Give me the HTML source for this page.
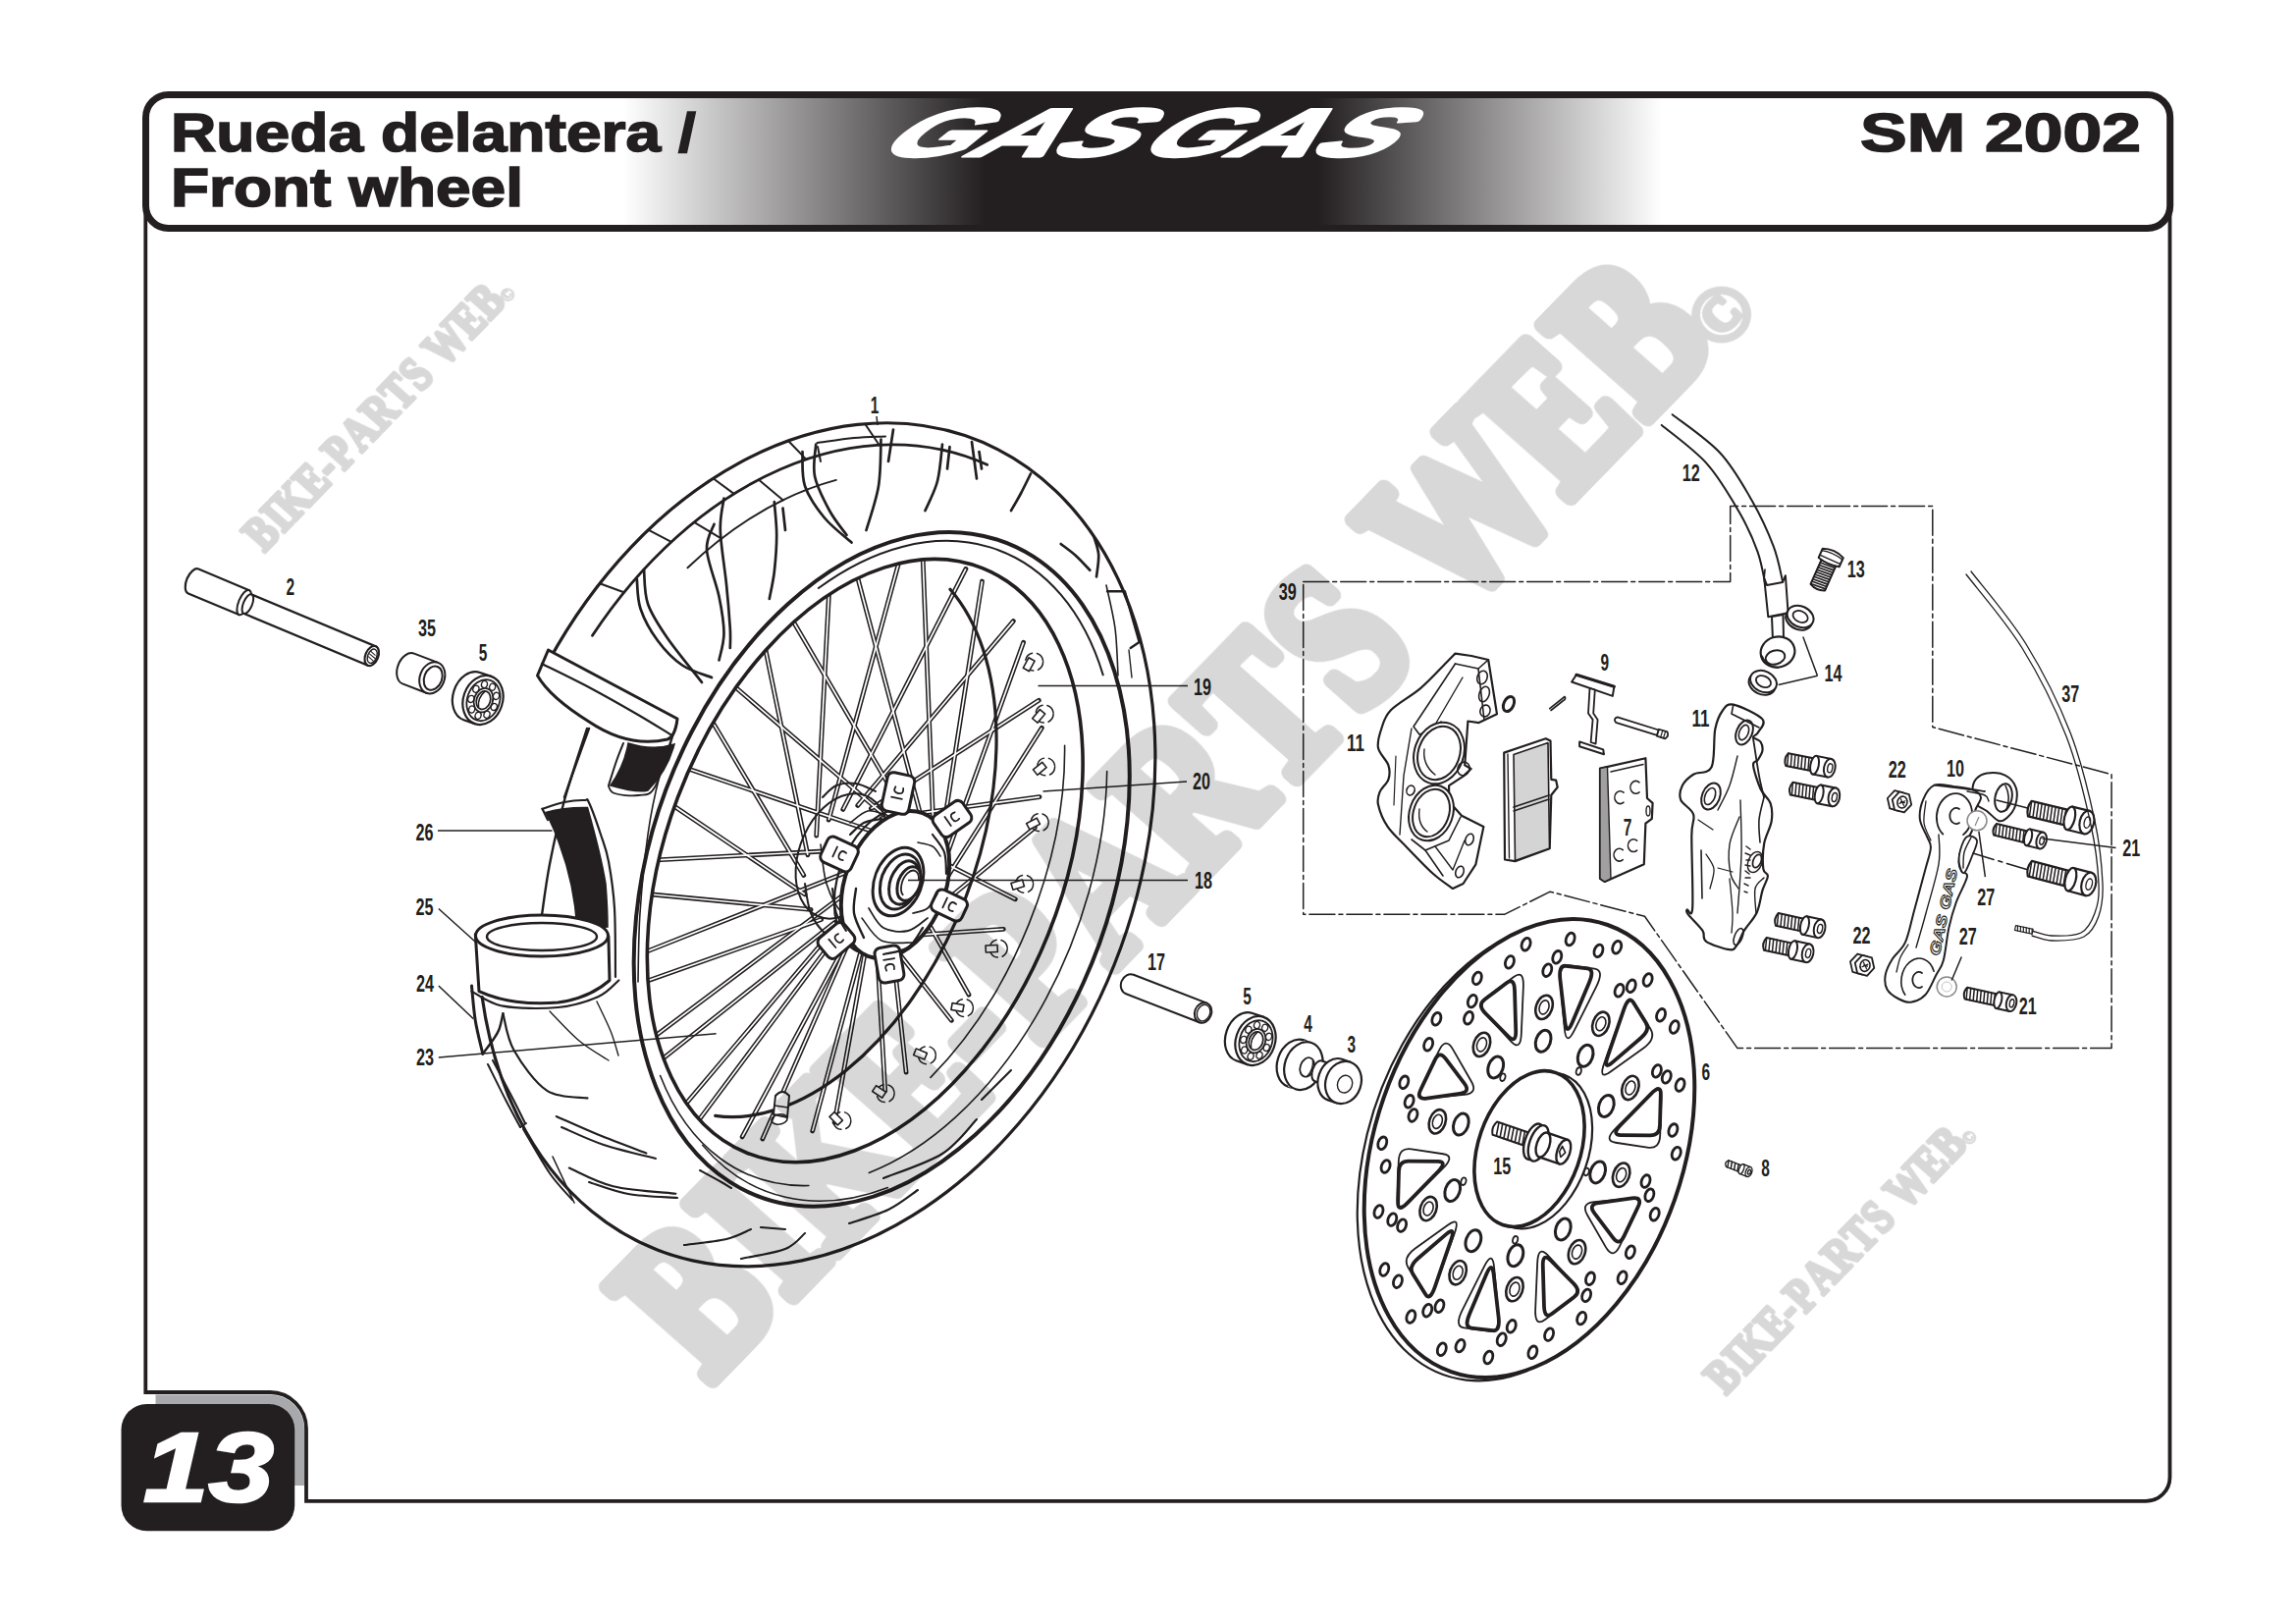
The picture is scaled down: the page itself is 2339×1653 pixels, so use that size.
<!DOCTYPE html>
<html><head><meta charset="utf-8"><title>Rueda delantera / Front wheel - GAS GAS SM 2002</title>
<style>
html,body{margin:0;padding:0;background:#fff;}
body{width:2339px;height:1653px;overflow:hidden;}
svg{display:block;}
text{font-family:"Liberation Sans",sans-serif;}
.lb{font-family:"Liberation Sans",sans-serif;font-weight:bold;font-size:22px;fill:#231f20;}
.k{stroke:#231f20;fill:none;stroke-linecap:round;stroke-linejoin:round;}
.w{fill:#fff;}
</style></head><body>
<svg width="2339" height="1653" viewBox="0 0 2339 1653">
<!-- 00_frame.svg -->
<defs>
<linearGradient id="hg" gradientUnits="userSpaceOnUse" x1="0" y1="0" x2="2339" y2="0">
<stop offset="0" stop-color="#fff"/>
<stop offset="0.2715" stop-color="#fff"/>
<stop offset="0.4290" stop-color="#231f20"/>
<stop offset="0.5740" stop-color="#231f20"/>
<stop offset="0.7240" stop-color="#fff"/>
<stop offset="1" stop-color="#fff"/>
</linearGradient>
</defs>
<rect x="0" y="0" width="2339" height="1653" fill="#fff"/>
<!-- main frame -->
<path d="M148.3 212 V1418 H275 A37 37 0 0 1 312 1455 V1528.9 H2186 A24.5 24.5 0 0 0 2210.5 1504.4 V212" fill="none" stroke="#231f20" stroke-width="3.8"/>
<!-- header -->
<rect x="148.5" y="96.5" width="2062.2" height="136" rx="23" ry="23" fill="url(#hg)" stroke="#231f20" stroke-width="7"/>
<g fill="#231f20" stroke="#231f20" stroke-width="1.6" font-weight="bold">
<text transform="translate(174.0 153.6) scale(1.1564 1)" font-size="55.5">Rueda delantera /</text>
<text transform="translate(174.0 209.6) scale(1.1527 1)" font-size="55.5">Front wheel</text>
<text transform="translate(1895.0 153.6) scale(1.2875 1)" font-size="55.5">SM 2002</text>
</g>
<g transform="translate(889 159) skewX(-51) scale(1.6876 1)">
<text x="0" y="0" font-size="69" font-weight="bold" fill="#fff" stroke="#fff" stroke-width="3" stroke-linejoin="round" word-spacing="-12">GAS GAS</text>
</g>
<!-- page number -->
<path d="M158.5 1420.4 H275 A35 35 0 0 1 310 1455.4 V1513 H158.5 Z" fill="#a7a9ac"/>
<rect x="123.5" y="1430" width="176.7" height="129.2" rx="26" ry="26" fill="#231f20"/>
<text transform="translate(146 1528.8) scale(1.1957 1)" font-size="100" font-weight="bold" font-style="italic" fill="#fff" stroke="#fff" stroke-width="2.5">13</text>

<!-- 20_wheel.svg -->
<clipPath id="c2clip"><path d="M1001.4 578.9A321 201.1 -68 0 1 982.6 1090.6A321 201.1 -68 0 1 659.6 960.1A321 201.1 -68 0 1 1001.4 578.9Z"/></clipPath>
<g clip-path="url(#c2clip)"><g class="k" stroke-width="4.8">
<path d="M887.4 823.6L1058.3 713.3"/>
<path d="M943.1 849.8L868.3 568"/>
<path d="M897.9 833.6L1059 811.6"/>
<path d="M951.6 862.8L939.9 562.1"/>
<path d="M904.1 849.2L1034.3 915.8"/>
<path d="M955.3 880.5L1000.5 592"/>
<path d="M905.2 868.5L987.1 1013.2"/>
<path d="M953.8 900.9L1042.6 654.3"/>
<path d="M901.1 889.2L923.1 1092.2"/>
<path d="M947.3 921.3L1061.3 741.4"/>
<path d="M892.3 908.8L850.1 1143.2"/>
<path d="M936.5 939.5L1054.2 842.8"/>
<path d="M879.8 924.9L776.8 1160"/>
<path d="M922.7 953.1L1022.3 946.3"/>
<path d="M865.2 935.6L712.1 1140.6"/>
<path d="M907.6 960.5L969.3 1039.3"/>
<path d="M850.2 939.6L663.7 1087.4"/>
<path d="M893.1 960.9L901.7 1110.8"/>
<path d="M836.6 936.4L637.7 1006.7"/>
<path d="M880.9 954.2L827.7 1152"/>
<path d="M826.1 926.4L637 908.4"/>
<path d="M872.4 941.2L756.1 1157.9"/>
<path d="M819.9 910.8L661.7 804.2"/>
<path d="M868.7 923.5L695.5 1128"/>
<path d="M818.8 891.5L708.9 706.8"/>
<path d="M870.2 903.1L653.4 1065.7"/>
<path d="M822.9 870.8L772.9 627.8"/>
<path d="M876.7 882.7L634.7 978.6"/>
<path d="M831.7 851.2L845.9 576.8"/>
<path d="M887.5 864.5L641.8 877.2"/>
<path d="M844.2 835.1L919.2 560"/>
<path d="M901.3 850.9L673.7 773.7"/>
<path d="M858.8 824.4L983.9 579.4"/>
<path d="M916.4 843.5L726.7 680.7"/>
<path d="M873.8 820.4L1032.3 632.6"/>
<path d="M930.9 843.1L794.3 609.2"/>
</g>
<g stroke="#fff" fill="none" stroke-width="1.7">
<path d="M887.4 823.6L1058.3 713.3"/>
<path d="M943.1 849.8L868.3 568"/>
<path d="M897.9 833.6L1059 811.6"/>
<path d="M951.6 862.8L939.9 562.1"/>
<path d="M904.1 849.2L1034.3 915.8"/>
<path d="M955.3 880.5L1000.5 592"/>
<path d="M905.2 868.5L987.1 1013.2"/>
<path d="M953.8 900.9L1042.6 654.3"/>
<path d="M901.1 889.2L923.1 1092.2"/>
<path d="M947.3 921.3L1061.3 741.4"/>
<path d="M892.3 908.8L850.1 1143.2"/>
<path d="M936.5 939.5L1054.2 842.8"/>
<path d="M879.8 924.9L776.8 1160"/>
<path d="M922.7 953.1L1022.3 946.3"/>
<path d="M865.2 935.6L712.1 1140.6"/>
<path d="M907.6 960.5L969.3 1039.3"/>
<path d="M850.2 939.6L663.7 1087.4"/>
<path d="M893.1 960.9L901.7 1110.8"/>
<path d="M836.6 936.4L637.7 1006.7"/>
<path d="M880.9 954.2L827.7 1152"/>
<path d="M826.1 926.4L637 908.4"/>
<path d="M872.4 941.2L756.1 1157.9"/>
<path d="M819.9 910.8L661.7 804.2"/>
<path d="M868.7 923.5L695.5 1128"/>
<path d="M818.8 891.5L708.9 706.8"/>
<path d="M870.2 903.1L653.4 1065.7"/>
<path d="M822.9 870.8L772.9 627.8"/>
<path d="M876.7 882.7L634.7 978.6"/>
<path d="M831.7 851.2L845.9 576.8"/>
<path d="M887.5 864.5L641.8 877.2"/>
<path d="M844.2 835.1L919.2 560"/>
<path d="M901.3 850.9L673.7 773.7"/>
<path d="M858.8 824.4L983.9 579.4"/>
<path d="M916.4 843.5L726.7 680.7"/>
<path d="M873.8 820.4L1032.3 632.6"/>
<path d="M930.9 843.1L794.3 609.2"/>
</g></g>
<path class="k" stroke-width="3.2" d="M558.9 673.4A443.3 327 -68.4 0 1 1166.3 877.3A443.3 327 -68.4 0 1 491.2 1015.6"/>
<path class="k" stroke-width="2.8" d="M603.5 647.3A428 311 -68.4 0 1 1005.6 473.3"/>
<path class="k" stroke-width="4" d="M802.6 615.3A356 234.2 -69.4 0 1 1148.4 837A356 234.2 -69.4 0 1 743.7 1203.9A356 234.2 -69.4 0 1 802.6 615.3"/>
<path class="k" stroke-width="2" d="M833.8 599A346 224 -69.2 0 1 1123.7 687.4"/>
<path class="k" stroke-width="3.6" d="M1001.4 578.9A321 201.1 -68 0 1 982.6 1090.6A321 201.1 -68 0 1 659.6 960.1A321 201.1 -68 0 1 1001.4 578.9Z"/>
<path class="k" stroke-width="3.2" d="M968 600.2A302 184 -69 0 1 728.7 1136.4"/>
<path class="k" stroke-width="1.6" d="M1127.7 785.5A343 218 -69 0 1 885.3 1194.4"/>
<path class="k" stroke-width="1.6" d="M1084.6 759.2A318 190 -68 0 1 948 1097.4"/>
<path class="k" stroke-width="1.6" d="M823.9 1207.5A343 218 -69 0 1 672.6 1095.5"/>
<path class="k" stroke-width="1.4" d="M904.5 1209.5A352 228 -69.4 0 1 715.6 1166.2"/>
<path class="k" stroke-width="2" d="M858.1 933.2A66 44 -69 0 1 819.1 850.9A66 44 -69 0 1 902.5 834.9"/>
<path class="k" stroke-width="2" d="M838 812C840.3 810 846.3 802.3 852 800C857.7 797.7 865.3 797 872 798C878.7 799 888.7 804.7 892 806"/>
<path class="k" stroke-width="2" d="M820 900C821 905 822.3 921.3 826 930C829.7 938.7 835.7 946.7 842 952C848.3 957.3 860.3 960.3 864 962"/>
<path class="k" stroke-width="1.6" d="M836 860C837 866.7 838.3 888.3 842 900C845.7 911.7 851.7 923.3 858 930C864.3 936.7 876.3 938.3 880 940"/>
<path class="k" stroke-width="1.6" d="M866 838C869 836 878 827.3 884 826C890 824.7 899 829.3 902 830"/>
<path class="k" stroke-width="1.6" d="M880 870C882.7 868.7 891.3 862.7 896 862C900.7 861.3 906 865.3 908 866"/>
<path class="k w" stroke-width="4" d="M940 828.2A78 51 -69 0 1 939.3 953.2A78 51 -69 0 1 856.8 921.6A78 51 -69 0 1 940 828.2Z"/>
<path class="k" stroke-width="2.2" d="M873 968.9A78 51 -69 0 1 905.4 825.8"/>
<g transform="translate(915 808) rotate(-78)"><rect class="k w" stroke-width="3" x="-20" y="-14" width="40" height="28" rx="6"/><path class="k" stroke-width="1.8" d="M-5 -6V5M6 -4Q0 -6 0 0Q0 6 6 4"/></g>
<g transform="translate(970 834) rotate(-35)"><rect class="k w" stroke-width="3" x="-18" y="-13" width="36" height="26" rx="6"/><path class="k" stroke-width="1.8" d="M-5 -6V5M6 -4Q0 -6 0 0Q0 6 6 4"/></g>
<g transform="translate(967 922) rotate(25)"><rect class="k w" stroke-width="3" x="-17" y="-12" width="34" height="24" rx="6"/><path class="k" stroke-width="1.8" d="M-5 -6V5M6 -4Q0 -6 0 0Q0 6 6 4"/></g>
<g transform="translate(906 982) rotate(80)"><rect class="k w" stroke-width="3" x="-18" y="-13" width="36" height="26" rx="6"/><path class="k" stroke-width="1.8" d="M-5 -6V5M6 -4Q0 -6 0 0Q0 6 6 4"/></g>
<g transform="translate(852 958) rotate(-40)"><rect class="k w" stroke-width="3" x="-17" y="-13" width="34" height="26" rx="6"/><path class="k" stroke-width="1.8" d="M-5 -6V5M6 -4Q0 -6 0 0Q0 6 6 4"/></g>
<g transform="translate(855 870) rotate(25)"><rect class="k w" stroke-width="3" x="-17" y="-14" width="34" height="28" rx="6"/><path class="k" stroke-width="1.8" d="M-5 -6V5M6 -4Q0 -6 0 0Q0 6 6 4"/></g>
<path class="k w" stroke-width="3" d="M927.9 864.4A36 24 -69 0 1 928 922.3A36 24 -69 0 1 889.1 907.4A36 24 -69 0 1 927.9 864.4Z"/>
<path class="k w" stroke-width="3" d="M927.4 870.9A29 19 -69 0 1 927.2 917.4A29 19 -69 0 1 896.4 905.6A29 19 -69 0 1 927.4 870.9Z"/>
<path class="k w" stroke-width="3" d="M929.2 877.5A23 14 -69 0 1 928.2 914.1A23 14 -69 0 1 905.6 905.4A23 14 -69 0 1 929.2 877.5Z"/>
<path class="k w" stroke-width="3" d="M932.5 883.2A18 11 -69 0 1 931.7 911.8A18 11 -69 0 1 913.9 905A18 11 -69 0 1 932.5 883.2Z"/>
<path class="k" stroke-width="1.8" d="M919.7 911.3A14 8 -69 0 1 924.5 889.4A14 8 -69 0 1 936 895.9"/>
<path class="k" stroke-width="1.8" d="M885 925C887.5 928.3 893.3 941.2 900 945C906.7 948.8 917.5 949.7 925 948C932.5 946.3 941.7 937.2 945 935"/>
<path class="k" stroke-width="1.6" d="M878 935C881.3 938.8 889.3 953.8 898 958C906.7 962.2 924.7 959.7 930 960"/>
<path class="k" stroke-width="1.6" d="M935 858C937.5 858.7 946.2 859.7 950 862C953.8 864.3 956.7 870.3 958 872"/>
<path class="k" stroke-width="2.4" d="M872 905C871.7 909.2 868.7 921.7 870 930C871.3 938.3 878.3 950.8 880 955"/>
<path class="k" stroke-width="2.2" d="M866 850C868.3 848 874.7 840.7 880 838C885.3 835.3 895 834.7 898 834"/>
<path class="k" stroke-width="2.2" d="M950 850C952 853 959.7 861.3 962 868C964.3 874.7 963.7 886.3 964 890"/>
<path class="k" stroke-width="2.2" d="M940 945C937.5 948.3 931.7 960.5 925 965C918.3 969.5 904.2 970.8 900 972"/>
<path class="k" stroke-width="2" d="M848 905C848.7 909.2 849.7 922.8 852 930C854.3 937.2 860.3 945 862 948"/>
<path class="k" stroke-width="1.8" d="M930 930C932.5 929.2 940.8 928.3 945 925C949.2 921.7 953.3 912.5 955 910"/>
<path class="k" stroke-width="2" d="M700.5 578.2A410 292 -68.4 0 1 851.8 488.9"/>
<path class="k" stroke-width="2" d="M611 594.2L635.6 603.3"/>
<path class="k" stroke-width="2" d="M660.4 539.7L683.8 551.9"/>
<path class="k" stroke-width="2" d="M726.5 487.3L747.7 502.9"/>
<path class="k" stroke-width="2" d="M803.1 449L821.3 467.9"/>
<path class="k" stroke-width="2" d="M881.2 431.7L895.7 453.3"/>
<path class="k" stroke-width="2" d="M707.1 531.8L735 548.6"/>
<path class="k" stroke-width="2" d="M772.8 488.6L797.8 509.4"/>
<path class="k" stroke-width="2.7" d="M648.8 590C649.4 595 649 609.6 652.5 620C656 630.4 662.9 642.9 670 652.5C677.1 662.1 685.8 671.2 695 677.5C704.2 683.8 720 687.9 725 690"/>
<path class="k" stroke-width="2.7" d="M656 580C656.7 585.8 656 603.3 660 615C664 626.7 670.8 636.7 680 650C689.2 663.3 709.2 687.5 715 695"/>
<path class="k" stroke-width="2.7" d="M727.5 533.8C726.2 538.1 719.2 547.7 720 560C720.8 572.3 729.6 593.3 732.5 607.5C735.4 621.7 737.5 634.2 737.5 645C737.5 655.8 733.3 667.9 732.5 672.5"/>
<path class="k" stroke-width="2.7" d="M737.5 507.5C736.9 512.9 733.3 525.4 733.8 540C734.2 554.6 738.3 578.3 740 595C741.7 611.7 743.1 629.2 743.8 640C744.4 650.8 743.8 656.7 743.8 660"/>
<path class="k" stroke-width="2.7" d="M788.8 511.2C789.2 516.9 791.2 533.1 791.2 545C791.2 556.9 790 571.7 788.8 582.5C787.5 593.3 784.6 605.4 783.8 610"/>
<path class="k" stroke-width="2.7" d="M797.5 517.5L800 540"/>
<path class="k" stroke-width="2.7" d="M817.5 460C817.9 465.8 816.2 483.8 820 495C823.8 506.2 832.1 517.9 840 527.5C847.9 537.1 862.9 548.3 867.5 552.5"/>
<path class="k" stroke-width="2.7" d="M831.2 452.5C831 457.9 827.7 473.8 830 485C832.3 496.2 839.6 510 845 520C850.4 530 859.6 540.8 862.5 545"/>
<path class="k" stroke-width="2.7" d="M897.5 447.5C897.1 455.4 897.5 479.6 895 495C892.5 510.4 884.6 532.5 882.5 540"/>
<path class="k" stroke-width="2.7" d="M910 437.5L905 470"/>
<path class="k" stroke-width="2.7" d="M960 452.5C959.2 458.8 957.9 478.8 955 490C952.1 501.2 944.6 515 942.5 520"/>
<path class="k" stroke-width="2.7" d="M967.5 455L965 477.5"/>
<path class="k" stroke-width="2.7" d="M990 450L995 487.5"/>
<path class="k" stroke-width="2.7" d="M997.5 460L1000 477.5"/>
<path class="k" stroke-width="2.7" d="M1050 482.5C1048.3 485.8 1043.3 496.2 1040 502.5C1036.7 508.8 1031.7 517.1 1030 520"/>
<path class="k" stroke-width="2.7" d="M1114.7 547.4C1115.5 550.4 1118.8 558.5 1119.2 565.2C1119.6 571.9 1117.4 583.7 1117 587.4"/>
<path class="k" stroke-width="2.7" d="M1080.7 554C1083.2 556 1091.1 561.5 1096 566C1100.9 570.5 1107.9 578.2 1110.3 580.7"/>
<path class="k" stroke-width="2" d="M832.5 451C838.8 450.2 858.4 447.1 870 446C881.6 444.9 896.7 444.8 902 444.5"/>
<path class="k" stroke-width="2" d="M833 455L836 470"/>
<path class="k" stroke-width="2.4" d="M1128 602.2L1145.8 602.2L1160.6 654L1151.7 660"/>
<path class="k" stroke-width="1.6" d="M1127 596C1128.5 603.3 1134 624.7 1136 640C1138 655.3 1138.5 680 1139 688"/>
<path class="k" stroke-width="1.4" d="M1150 662L1153 690"/>
<path class="k" stroke-width="2.1" d="M566.7 1137C573.9 1140.1 594.4 1149.5 609.7 1155.8C625 1162 650.3 1171.4 658.4 1174.5"/>
<path class="k" stroke-width="2.1" d="M572 1148C579.2 1151 599 1160.7 615 1166C631 1171.3 659.2 1177.7 668 1180"/>
<path class="k" stroke-width="2.1" d="M579.8 1189.5C587.3 1192.6 606.6 1203.8 624.7 1208.2C642.8 1212.6 677.8 1214.5 688.4 1215.7"/>
<path class="k" stroke-width="2.1" d="M600 1204C606.7 1206 625 1213.3 640 1216C655 1218.7 681.7 1219.3 690 1220"/>
<path class="k" stroke-width="2.1" d="M697 1268C704.2 1267 728.7 1264.7 740 1262C751.3 1259.3 760.8 1253.7 765 1252"/>
<path class="k" stroke-width="2.1" d="M775 1250L800 1252"/>
<path class="k" stroke-width="2.1" d="M755 1282C762.5 1280.3 789.2 1276.3 800 1272C810.8 1267.7 816.7 1258.7 820 1256"/>
<path class="k" stroke-width="2.1" d="M713 1192C716.7 1194 729.7 1201 735 1204C740.3 1207 743.3 1209 745 1210"/>
<path class="k" stroke-width="2.1" d="M865 1246C871.7 1243.7 893.3 1237.7 905 1232C916.7 1226.3 930 1215.3 935 1212"/>
<path class="k" stroke-width="2.1" d="M900 1200C910 1195.8 944.2 1185 960 1175C975.8 1165 989.2 1145.8 995 1140"/>
<path class="k" stroke-width="2.1" d="M1000 1120L1030 1090"/>
<path class="k" stroke-width="2" d="M497 1084C500 1090 509.5 1109.3 515 1120C520.5 1130.7 527.5 1143.3 530 1148"/>
<path class="k" stroke-width="2" d="M502 1080C505.3 1086.3 516.5 1107.3 522 1118C527.5 1128.7 532.8 1139.7 535 1144"/>
<path class="k" stroke-width="2" d="M530 1148L536 1144"/>
<path class="k" stroke-width="2" d="M533 1150C537.5 1157.5 551.7 1183 560 1195C568.3 1207 579.2 1217.5 583 1222"/>
<path class="k" stroke-width="1.6" d="M563 1178L585 1225"/>
<path class="k w" stroke-width="2" d="M788 1135 L790 1116 Q797 1108 804 1116 L802 1138 Z"/>
<path class="k" stroke-width="1.6" d="M801.9 1138.6A8 5 -10 0 1 790.8 1145A8 5 -10 0 1 789.3 1136.4A8 5 -10 0 1 801.9 1138.6"/>
<path class="k" stroke-width="1.4" d="M789 1126L803 1128"/>
<circle class="k" stroke-width="1.5" cx="1053.6" cy="674.1" r="9" stroke-dasharray="10 5"/>
<rect class="k w" stroke-width="1.6" x="1040.6" y="670.6" width="12" height="7" transform="rotate(-62 1049.6 674.1)"/>
<circle class="k" stroke-width="1.5" cx="1064.1" cy="727.1" r="9" stroke-dasharray="10 5"/>
<rect class="k w" stroke-width="1.6" x="1051.1" y="723.6" width="12" height="7" transform="rotate(-50 1060.1 727.1)"/>
<circle class="k" stroke-width="1.5" cx="1065.6" cy="780.9" r="9" stroke-dasharray="10 5"/>
<rect class="k w" stroke-width="1.6" x="1052.6" y="777.4" width="12" height="7" transform="rotate(-39 1061.6 780.9)"/>
<circle class="k" stroke-width="1.5" cx="1059.2" cy="837.6" r="9" stroke-dasharray="10 5"/>
<rect class="k w" stroke-width="1.6" x="1046.2" y="834.1" width="12" height="7" transform="rotate(-28 1055.2 837.6)"/>
<circle class="k" stroke-width="1.5" cx="1043.6" cy="900.3" r="9" stroke-dasharray="10 5"/>
<rect class="k w" stroke-width="1.6" x="1030.6" y="896.8" width="12" height="7" transform="rotate(-16 1039.6 900.3)"/>
<circle class="k" stroke-width="1.5" cx="1017.2" cy="966.1" r="9" stroke-dasharray="10 5"/>
<rect class="k w" stroke-width="1.6" x="1004.2" y="962.6" width="12" height="7" transform="rotate(-3 1013.2 966.1)"/>
<circle class="k" stroke-width="1.5" cx="982.4" cy="1026.5" r="9" stroke-dasharray="10 5"/>
<rect class="k w" stroke-width="1.6" x="969.4" y="1023" width="12" height="7" transform="rotate(10 978.4 1026.5)"/>
<circle class="k" stroke-width="1.5" cx="944.3" cy="1074.7" r="9" stroke-dasharray="10 5"/>
<rect class="k w" stroke-width="1.6" x="931.3" y="1071.2" width="12" height="7" transform="rotate(22 940.3 1074.7)"/>
<circle class="k" stroke-width="1.5" cx="902.1" cy="1113.6" r="9" stroke-dasharray="10 5"/>
<rect class="k w" stroke-width="1.6" x="889.1" y="1110.1" width="12" height="7" transform="rotate(34 898.1 1113.6)"/>
<circle class="k" stroke-width="1.5" cx="857.8" cy="1141.4" r="9" stroke-dasharray="10 5"/>
<rect class="k w" stroke-width="1.6" x="844.8" y="1137.9" width="12" height="7" transform="rotate(46 853.8 1141.4)"/>
<path class="k w" stroke-width="3" d="M558.5 662 L690 732 Q688 750 680 753 Q640 762 600 735 Q560 710 547.5 688 Z"/>
<path class="k" stroke-width="2.2" d="M552 676C560 680 583.7 691.3 600 700C616.3 708.7 636.2 720 650 728C663.8 736 677.5 744.7 683 748"/>
<path class="k" stroke-width="2.4" d="M600 742C598 747.5 592.2 763.3 588 775C583.8 786.7 577.2 805.8 575 812"/>
<path class="k" stroke-width="2" d="M635 757C633.8 760 630.5 767.8 628 775C625.5 782.2 621.3 795.8 620 800"/>
<path fill="#231f20" stroke="#231f20" stroke-width="1.5" d="M640 757 Q665 765 687 758 Q680 785 660 805 Q650 808 622 800 Q636 780 640 757Z"/>
<path class="k" stroke-width="1.8" d="M620 801C621 802.2 621 806.5 626 808C631 809.5 643 811.3 650 810C657 808.7 661.3 812.5 668 800C674.7 787.5 686.3 745.8 690 735"/>
<path class="k" stroke-width="1.6" d="M690 735C687 744.2 677 770.8 672 790C667 809.2 663.3 826.7 660 850C656.7 873.3 653.7 905 652 930C650.3 955 650.3 988.3 650 1000"/>
<path class="k" stroke-width="2.4" d="M598 742C594.2 754.2 581.3 792 575 815C568.7 838 563.8 860.5 560 880C556.2 899.5 553.3 923.3 552 932"/>
<path fill="#231f20" stroke="#231f20" stroke-width="1.5" d="M556 827.5 Q575 822 598.5 822.5 Q612 870 617 900 Q619 925 619 944 L588 946 Q585 900 570 860 Q565 845 556 827.5Z"/>
<path class="k" stroke-width="2.2" d="M552.5 823.8C556.2 822.6 567.9 818.5 575 817C582.1 815.5 590.8 814.9 595 815C599.2 815.1 597.2 811.7 600 817.5C602.8 823.3 608.7 840 612 850C615.3 860 617.7 865 620 877.5C622.3 890 624.8 905.4 626 925C627.2 944.6 626.8 983.3 627 995"/>
<path class="k" stroke-width="2.2" d="M552.5 823.8L558 835"/>
<path class="k w" stroke-width="3" d="M484.3 951.7 L488 1009.7 C510 1020 540 1023.5 568.5 1021 C592 1018 610 1008 621 998.5 L619.9 953.6 Z"/>
<ellipse class="k w" stroke-width="3" cx="552" cy="953" rx="67.5" ry="21"/>
<ellipse class="k w" stroke-width="2.4" cx="552" cy="954" rx="56" ry="14"/>
<path class="k" stroke-width="3" d="M480.5 1004C481.1 1010 482.4 1028.1 484.3 1039.7C486.2 1051.3 490.6 1067.8 491.8 1073.4"/>
<path class="k" stroke-width="2.4" d="M491.8 1073.4C493.7 1070.8 500.2 1062.2 503 1058C505.8 1053.8 507 1052.3 508.6 1048C510.2 1043.7 511.8 1034.8 512.4 1032.2"/>
<path class="k" stroke-width="2.2" d="M480.5 1009.7C485.8 1012.2 497.7 1022 512.4 1024.7C527.1 1027.4 552.3 1027.6 568.5 1026C584.7 1024.4 599.4 1019.6 609.7 1015C620 1010.4 626.9 1001.2 630.3 998.5"/>
<path class="k" stroke-width="2.2" d="M512.4 1032.2C514.3 1038.5 516.1 1056.6 523.6 1069.7C531.1 1082.8 544.8 1102.8 557.3 1110.9C569.8 1119 591.6 1117.2 598.5 1118.4"/>
<path class="k" stroke-width="1.4" d="M560 1030C565 1035 580 1051.7 590 1060C600 1068.3 615 1076.7 620 1080"/>
<path class="k" stroke-width="1.4" d="M608 1020C610.3 1025 618.3 1040.8 622 1050C625.7 1059.2 628.7 1070.8 630 1075"/>

<!-- 30_disc.svg -->
<path class="k" stroke-width="2.2" d="M1556.1 1395.9A241 157 -70.7 0 1 1382.8 1241.8A241 157 -70.7 0 1 1545.9 950.1"/>
<path class="k w" stroke-width="4" d="M1637.7 942A241 157 -70.7 0 1 1646.5 1328.2A241 157 -70.7 0 1 1389.8 1238.3A241 157 -70.7 0 1 1637.7 942Z"/>
<g transform="matrix(79.7 -227.5 148.2 51.9 1558 1169.5)" class="k" style="vector-effect:non-scaling-stroke">
<path d="M0.534 0.023Q0.455 0.008 0.526 -0.041L0.705 -0.166Q0.776 -0.215 0.785 -0.151L0.807 0.014Q0.816 0.079 0.737 0.063Z" stroke-width="1.8" vector-effect="non-scaling-stroke"/>
<path d="M0.561 -0.007Q0.500 -0.013 0.554 -0.053L0.717 -0.174Q0.771 -0.214 0.778 -0.168L0.798 -0.029Q0.805 0.017 0.744 0.011Z" stroke-width="3.8" vector-effect="non-scaling-stroke"/>
<circle cx="0.596" cy="0.171" r="0.052" stroke-width="2.6" vector-effect="non-scaling-stroke" fill="none"/>
<circle cx="0.596" cy="0.171" r="0.030" stroke-width="1.6" vector-effect="non-scaling-stroke" fill="none"/>
<circle cx="0.447" cy="-0.145" r="0.047" stroke-width="3" vector-effect="non-scaling-stroke" fill="none"/>
<circle cx="0.891" cy="-0.198" r="0.027" stroke-width="2.8" vector-effect="non-scaling-stroke" fill="none"/>
<circle cx="0.801" cy="-0.240" r="0.027" stroke-width="2.8" vector-effect="non-scaling-stroke" fill="none"/>
<circle cx="0.735" cy="-0.272" r="0.027" stroke-width="2.8" vector-effect="non-scaling-stroke" fill="none"/>
<circle cx="0.809" cy="-0.458" r="0.027" stroke-width="2.8" vector-effect="non-scaling-stroke" fill="none"/>
<circle cx="0.715" cy="-0.520" r="0.027" stroke-width="2.8" vector-effect="non-scaling-stroke" fill="none"/>
<path d="M0.419 0.333Q0.363 0.274 0.449 0.276L0.668 0.280Q0.754 0.282 0.723 0.339L0.645 0.486Q0.614 0.543 0.559 0.484Z" stroke-width="1.8" vector-effect="non-scaling-stroke"/>
<path d="M0.458 0.324Q0.412 0.283 0.480 0.283L0.682 0.281Q0.749 0.280 0.728 0.321L0.663 0.445Q0.641 0.487 0.595 0.446Z" stroke-width="3.8" vector-effect="non-scaling-stroke"/>
<circle cx="0.382" cy="0.489" r="0.052" stroke-width="2.6" vector-effect="non-scaling-stroke" fill="none"/>
<circle cx="0.382" cy="0.489" r="0.030" stroke-width="1.6" vector-effect="non-scaling-stroke" fill="none"/>
<circle cx="0.447" cy="0.145" r="0.047" stroke-width="3" vector-effect="non-scaling-stroke" fill="none"/>
<circle cx="0.837" cy="0.364" r="0.027" stroke-width="2.8" vector-effect="non-scaling-stroke" fill="none"/>
<circle cx="0.789" cy="0.276" r="0.027" stroke-width="2.8" vector-effect="non-scaling-stroke" fill="none"/>
<circle cx="0.755" cy="0.212" r="0.027" stroke-width="2.8" vector-effect="non-scaling-stroke" fill="none"/>
<circle cx="0.924" cy="0.105" r="0.027" stroke-width="2.8" vector-effect="non-scaling-stroke" fill="none"/>
<circle cx="0.884" cy="0.000" r="0.027" stroke-width="2.8" vector-effect="non-scaling-stroke" fill="none"/>
<path d="M0.143 0.516Q0.133 0.435 0.202 0.487L0.376 0.619Q0.444 0.671 0.386 0.700L0.236 0.772Q0.177 0.801 0.168 0.720Z" stroke-width="1.8" vector-effect="non-scaling-stroke"/>
<path d="M0.180 0.531Q0.167 0.471 0.222 0.510L0.387 0.628Q0.442 0.667 0.400 0.688L0.274 0.750Q0.233 0.771 0.220 0.711Z" stroke-width="3.8" vector-effect="non-scaling-stroke"/>
<circle cx="0.022" cy="0.620" r="0.052" stroke-width="2.6" vector-effect="non-scaling-stroke" fill="none"/>
<circle cx="0.022" cy="0.620" r="0.030" stroke-width="1.6" vector-effect="non-scaling-stroke" fill="none"/>
<circle cx="0.276" cy="0.380" r="0.047" stroke-width="3" vector-effect="non-scaling-stroke" fill="none"/>
<circle cx="0.463" cy="0.787" r="0.027" stroke-width="2.8" vector-effect="non-scaling-stroke" fill="none"/>
<circle cx="0.476" cy="0.687" r="0.027" stroke-width="2.8" vector-effect="non-scaling-stroke" fill="none"/>
<circle cx="0.486" cy="0.615" r="0.027" stroke-width="2.8" vector-effect="non-scaling-stroke" fill="none"/>
<circle cx="0.686" cy="0.628" r="0.027" stroke-width="2.8" vector-effect="non-scaling-stroke" fill="none"/>
<circle cx="0.715" cy="0.520" r="0.027" stroke-width="2.8" vector-effect="non-scaling-stroke" fill="none"/>
<path d="M-0.187 0.501Q-0.148 0.430 -0.123 0.512L-0.060 0.722Q-0.035 0.804 -0.099 0.793L-0.263 0.763Q-0.327 0.752 -0.288 0.681Z" stroke-width="1.8" vector-effect="non-scaling-stroke"/>
<path d="M-0.167 0.536Q-0.142 0.479 -0.121 0.543L-0.056 0.735Q-0.035 0.799 -0.081 0.791L-0.219 0.768Q-0.265 0.760 -0.240 0.704Z" stroke-width="3.8" vector-effect="non-scaling-stroke"/>
<circle cx="-0.347" cy="0.514" r="0.052" stroke-width="2.6" vector-effect="non-scaling-stroke" fill="none"/>
<circle cx="-0.347" cy="0.514" r="0.030" stroke-width="1.6" vector-effect="non-scaling-stroke" fill="none"/>
<circle cx="0.000" cy="0.470" r="0.047" stroke-width="3" vector-effect="non-scaling-stroke" fill="none"/>
<circle cx="-0.088" cy="0.909" r="0.027" stroke-width="2.8" vector-effect="non-scaling-stroke" fill="none"/>
<circle cx="-0.019" cy="0.836" r="0.027" stroke-width="2.8" vector-effect="non-scaling-stroke" fill="none"/>
<circle cx="0.031" cy="0.783" r="0.027" stroke-width="2.8" vector-effect="non-scaling-stroke" fill="none"/>
<circle cx="0.185" cy="0.911" r="0.027" stroke-width="2.8" vector-effect="non-scaling-stroke" fill="none"/>
<circle cx="0.273" cy="0.841" r="0.027" stroke-width="2.8" vector-effect="non-scaling-stroke" fill="none"/>
<path d="M-0.446 0.295Q-0.373 0.261 -0.401 0.342L-0.473 0.549Q-0.501 0.630 -0.546 0.583L-0.661 0.463Q-0.707 0.416 -0.633 0.382Z" stroke-width="1.8" vector-effect="non-scaling-stroke"/>
<path d="M-0.450 0.335Q-0.397 0.304 -0.417 0.369L-0.478 0.562Q-0.498 0.626 -0.531 0.593L-0.628 0.493Q-0.661 0.459 -0.608 0.428Z" stroke-width="3.8" vector-effect="non-scaling-stroke"/>
<circle cx="-0.583" cy="0.212" r="0.052" stroke-width="2.6" vector-effect="non-scaling-stroke" fill="none"/>
<circle cx="-0.583" cy="0.212" r="0.030" stroke-width="1.6" vector-effect="non-scaling-stroke" fill="none"/>
<circle cx="-0.276" cy="0.380" r="0.047" stroke-width="3" vector-effect="non-scaling-stroke" fill="none"/>
<circle cx="-0.605" cy="0.684" r="0.027" stroke-width="2.8" vector-effect="non-scaling-stroke" fill="none"/>
<circle cx="-0.507" cy="0.665" r="0.027" stroke-width="2.8" vector-effect="non-scaling-stroke" fill="none"/>
<circle cx="-0.435" cy="0.652" r="0.027" stroke-width="2.8" vector-effect="non-scaling-stroke" fill="none"/>
<circle cx="-0.386" cy="0.846" r="0.027" stroke-width="2.8" vector-effect="non-scaling-stroke" fill="none"/>
<circle cx="-0.273" cy="0.841" r="0.027" stroke-width="2.8" vector-effect="non-scaling-stroke" fill="none"/>
<path d="M-0.534 -0.023Q-0.455 -0.008 -0.526 0.041L-0.705 0.166Q-0.776 0.215 -0.785 0.151L-0.807 -0.014Q-0.816 -0.079 -0.737 -0.063Z" stroke-width="1.8" vector-effect="non-scaling-stroke"/>
<path d="M-0.561 0.007Q-0.500 0.013 -0.554 0.053L-0.717 0.174Q-0.771 0.214 -0.778 0.168L-0.798 0.029Q-0.805 -0.017 -0.744 -0.011Z" stroke-width="3.8" vector-effect="non-scaling-stroke"/>
<circle cx="-0.596" cy="-0.171" r="0.052" stroke-width="2.6" vector-effect="non-scaling-stroke" fill="none"/>
<circle cx="-0.596" cy="-0.171" r="0.030" stroke-width="1.6" vector-effect="non-scaling-stroke" fill="none"/>
<circle cx="-0.447" cy="0.145" r="0.047" stroke-width="3" vector-effect="non-scaling-stroke" fill="none"/>
<circle cx="-0.891" cy="0.198" r="0.027" stroke-width="2.8" vector-effect="non-scaling-stroke" fill="none"/>
<circle cx="-0.801" cy="0.240" r="0.027" stroke-width="2.8" vector-effect="non-scaling-stroke" fill="none"/>
<circle cx="-0.735" cy="0.272" r="0.027" stroke-width="2.8" vector-effect="non-scaling-stroke" fill="none"/>
<circle cx="-0.809" cy="0.458" r="0.027" stroke-width="2.8" vector-effect="non-scaling-stroke" fill="none"/>
<circle cx="-0.715" cy="0.520" r="0.027" stroke-width="2.8" vector-effect="non-scaling-stroke" fill="none"/>
<path d="M-0.419 -0.333Q-0.363 -0.274 -0.449 -0.276L-0.668 -0.280Q-0.754 -0.282 -0.723 -0.339L-0.645 -0.486Q-0.614 -0.543 -0.559 -0.484Z" stroke-width="1.8" vector-effect="non-scaling-stroke"/>
<path d="M-0.458 -0.324Q-0.412 -0.283 -0.480 -0.283L-0.682 -0.281Q-0.749 -0.280 -0.728 -0.321L-0.663 -0.445Q-0.641 -0.487 -0.595 -0.446Z" stroke-width="3.8" vector-effect="non-scaling-stroke"/>
<circle cx="-0.382" cy="-0.489" r="0.052" stroke-width="2.6" vector-effect="non-scaling-stroke" fill="none"/>
<circle cx="-0.382" cy="-0.489" r="0.030" stroke-width="1.6" vector-effect="non-scaling-stroke" fill="none"/>
<circle cx="-0.447" cy="-0.145" r="0.047" stroke-width="3" vector-effect="non-scaling-stroke" fill="none"/>
<circle cx="-0.837" cy="-0.364" r="0.027" stroke-width="2.8" vector-effect="non-scaling-stroke" fill="none"/>
<circle cx="-0.789" cy="-0.276" r="0.027" stroke-width="2.8" vector-effect="non-scaling-stroke" fill="none"/>
<circle cx="-0.755" cy="-0.212" r="0.027" stroke-width="2.8" vector-effect="non-scaling-stroke" fill="none"/>
<circle cx="-0.924" cy="-0.105" r="0.027" stroke-width="2.8" vector-effect="non-scaling-stroke" fill="none"/>
<circle cx="-0.884" cy="0.000" r="0.027" stroke-width="2.8" vector-effect="non-scaling-stroke" fill="none"/>
<path d="M-0.143 -0.516Q-0.133 -0.435 -0.202 -0.487L-0.376 -0.619Q-0.444 -0.671 -0.386 -0.700L-0.236 -0.772Q-0.177 -0.801 -0.168 -0.720Z" stroke-width="1.8" vector-effect="non-scaling-stroke"/>
<path d="M-0.180 -0.531Q-0.167 -0.471 -0.222 -0.510L-0.387 -0.628Q-0.442 -0.667 -0.400 -0.688L-0.274 -0.750Q-0.233 -0.771 -0.220 -0.711Z" stroke-width="3.8" vector-effect="non-scaling-stroke"/>
<circle cx="-0.022" cy="-0.620" r="0.052" stroke-width="2.6" vector-effect="non-scaling-stroke" fill="none"/>
<circle cx="-0.022" cy="-0.620" r="0.030" stroke-width="1.6" vector-effect="non-scaling-stroke" fill="none"/>
<circle cx="-0.276" cy="-0.380" r="0.047" stroke-width="3" vector-effect="non-scaling-stroke" fill="none"/>
<circle cx="-0.463" cy="-0.787" r="0.027" stroke-width="2.8" vector-effect="non-scaling-stroke" fill="none"/>
<circle cx="-0.476" cy="-0.687" r="0.027" stroke-width="2.8" vector-effect="non-scaling-stroke" fill="none"/>
<circle cx="-0.486" cy="-0.615" r="0.027" stroke-width="2.8" vector-effect="non-scaling-stroke" fill="none"/>
<circle cx="-0.686" cy="-0.628" r="0.027" stroke-width="2.8" vector-effect="non-scaling-stroke" fill="none"/>
<circle cx="-0.715" cy="-0.520" r="0.027" stroke-width="2.8" vector-effect="non-scaling-stroke" fill="none"/>
<path d="M0.187 -0.501Q0.148 -0.430 0.123 -0.512L0.060 -0.722Q0.035 -0.804 0.099 -0.793L0.263 -0.763Q0.327 -0.752 0.288 -0.681Z" stroke-width="1.8" vector-effect="non-scaling-stroke"/>
<path d="M0.167 -0.536Q0.142 -0.479 0.121 -0.543L0.056 -0.735Q0.035 -0.799 0.081 -0.791L0.219 -0.768Q0.265 -0.760 0.240 -0.704Z" stroke-width="3.8" vector-effect="non-scaling-stroke"/>
<circle cx="0.347" cy="-0.514" r="0.052" stroke-width="2.6" vector-effect="non-scaling-stroke" fill="none"/>
<circle cx="0.347" cy="-0.514" r="0.030" stroke-width="1.6" vector-effect="non-scaling-stroke" fill="none"/>
<circle cx="-0.000" cy="-0.470" r="0.047" stroke-width="3" vector-effect="non-scaling-stroke" fill="none"/>
<circle cx="0.088" cy="-0.909" r="0.027" stroke-width="2.8" vector-effect="non-scaling-stroke" fill="none"/>
<circle cx="0.019" cy="-0.836" r="0.027" stroke-width="2.8" vector-effect="non-scaling-stroke" fill="none"/>
<circle cx="-0.031" cy="-0.783" r="0.027" stroke-width="2.8" vector-effect="non-scaling-stroke" fill="none"/>
<circle cx="-0.185" cy="-0.911" r="0.027" stroke-width="2.8" vector-effect="non-scaling-stroke" fill="none"/>
<circle cx="-0.273" cy="-0.841" r="0.027" stroke-width="2.8" vector-effect="non-scaling-stroke" fill="none"/>
<path d="M0.446 -0.295Q0.373 -0.261 0.401 -0.342L0.473 -0.549Q0.501 -0.630 0.546 -0.583L0.661 -0.463Q0.707 -0.416 0.633 -0.382Z" stroke-width="1.8" vector-effect="non-scaling-stroke"/>
<path d="M0.450 -0.335Q0.397 -0.304 0.417 -0.369L0.478 -0.562Q0.498 -0.626 0.531 -0.593L0.628 -0.493Q0.661 -0.459 0.608 -0.428Z" stroke-width="3.8" vector-effect="non-scaling-stroke"/>
<circle cx="0.583" cy="-0.212" r="0.052" stroke-width="2.6" vector-effect="non-scaling-stroke" fill="none"/>
<circle cx="0.583" cy="-0.212" r="0.030" stroke-width="1.6" vector-effect="non-scaling-stroke" fill="none"/>
<circle cx="0.276" cy="-0.380" r="0.047" stroke-width="3" vector-effect="non-scaling-stroke" fill="none"/>
<circle cx="0.605" cy="-0.684" r="0.027" stroke-width="2.8" vector-effect="non-scaling-stroke" fill="none"/>
<circle cx="0.507" cy="-0.665" r="0.027" stroke-width="2.8" vector-effect="non-scaling-stroke" fill="none"/>
<circle cx="0.435" cy="-0.652" r="0.027" stroke-width="2.8" vector-effect="non-scaling-stroke" fill="none"/>
<circle cx="0.386" cy="-0.846" r="0.027" stroke-width="2.8" vector-effect="non-scaling-stroke" fill="none"/>
<circle cx="0.273" cy="-0.841" r="0.027" stroke-width="2.8" vector-effect="non-scaling-stroke" fill="none"/>
<circle cx="0.376" cy="0.137" r="0.016" stroke-width="1.8" vector-effect="non-scaling-stroke" fill="none"/>
<circle cx="-0.014" cy="0.400" r="0.016" stroke-width="1.8" vector-effect="non-scaling-stroke" fill="none"/>
<circle cx="-0.385" cy="0.110" r="0.016" stroke-width="1.8" vector-effect="non-scaling-stroke" fill="none"/>
<circle cx="-0.224" cy="-0.332" r="0.016" stroke-width="1.8" vector-effect="non-scaling-stroke" fill="none"/>
<circle cx="0.246" cy="-0.315" r="0.016" stroke-width="1.8" vector-effect="non-scaling-stroke" fill="none"/>
</g>
<path class="k w" stroke-width="2.2" d="M1593.1 1094.6A82 52 -70.7 0 1 1595 1225.6A82 52 -70.7 0 1 1509.9 1195.8A82 52 -70.7 0 1 1593.1 1094.6Z"/>
<path class="k w" stroke-width="3.6" d="M1585.1 1092.6A82 52 -70.7 0 1 1587 1223.6A82 52 -70.7 0 1 1501.9 1193.8A82 52 -70.7 0 1 1585.1 1092.6Z"/>
<g transform="translate(1572 1166) rotate(19)"><path class="k w" stroke-width="2" d="M-52 -7H-18V7H-52Q-56 0 -52 -7Z"/><path class="k" stroke-width="1.6" d="M-50 -7L-48 7"/><path class="k" stroke-width="1.6" d="M-46 -7L-44 7"/><path class="k" stroke-width="1.6" d="M-42 -7L-40 7"/><path class="k" stroke-width="1.6" d="M-38 -7L-36 7"/><path class="k" stroke-width="1.6" d="M-34 -7L-32 7"/><path class="k" stroke-width="1.6" d="M-30 -7L-28 7"/><path class="k" stroke-width="1.6" d="M-26 -7L-24 7"/><path class="k" stroke-width="1.6" d="M-22 -7L-20 7"/><ellipse class="k w" stroke-width="2.4" cx="-10" cy="0" rx="9" ry="19"/><ellipse class="k w" stroke-width="2.4" cx="-5" cy="0" rx="9" ry="19"/><path class="k w" stroke-width="2.4" d="M0 -13H22V13H0Z"/><ellipse class="k w" stroke-width="2.4" cx="0" cy="0" rx="6.5" ry="13"/><ellipse class="k w" stroke-width="2.4" cx="22" cy="0" rx="6.5" ry="13"/><path class="k" stroke-width="1.6" d="M19 -5L24 0L21 6L18 1Z"/></g>

<!-- 40_small.svg -->
<g transform="translate(197 592) rotate(22.7)"><path class="k w" stroke-width="2.2" d="M0 -13.5 H56 V13.5 H0 A7 13.5 0 0 1 0 -13.5Z"/><path class="k w" stroke-width="2.2" d="M56 -10.5 H197 V10.5 H56Z"/><ellipse class="k w" stroke-width="2" cx="56" cy="0" rx="5.5" ry="13.5"/><ellipse class="k w" stroke-width="2" cx="60" cy="0" rx="4.5" ry="10.5"/><ellipse class="k w" stroke-width="2.2" cx="197" cy="0" rx="6.5" ry="10.5"/><ellipse class="k" stroke-width="1.4" cx="197.5" cy="0" rx="4.5" ry="7.5"/><path class="k" stroke-width="1" d="M194 -4L200 -2M194 -1L201 1M194 2L200 4"/></g>
<g transform="translate(416 681) rotate(21)"><path class="k w" stroke-width="2" d="M0 -16.5 H26 V16.5 H0 A11 16.5 0 0 1 0 -16.5Z"/><ellipse class="k w" stroke-width="2" cx="26" cy="0" rx="12.5" ry="16.5"/><ellipse class="k w" stroke-width="2" cx="27" cy="0" rx="9" ry="12.5"/></g>
<g transform="translate(492 713) rotate(19) scale(1)"><path class="k w" stroke-width="2.2" d="M-12 -25.5 H0 V25.5 H-12 A19 25.5 0 0 1 -12 -25.5Z"/><ellipse class="k w" stroke-width="2.2" cx="0" cy="0" rx="20" ry="25.5"/><ellipse class="k" stroke-width="1.8" cx="0.5" cy="0" rx="16.5" ry="21.5"/><ellipse class="k" stroke-width="1.3" cx="12.9" cy="2.9" rx="3" ry="3.6"/><ellipse class="k" stroke-width="1.3" cx="8.6" cy="12.7" rx="3" ry="3.6"/><ellipse class="k" stroke-width="1.3" cx="0.5" cy="16.6" rx="3" ry="3.6"/><ellipse class="k" stroke-width="1.3" cx="-7.6" cy="12.7" rx="3" ry="3.6"/><ellipse class="k" stroke-width="1.3" cx="-11.9" cy="2.9" rx="3" ry="3.6"/><ellipse class="k" stroke-width="1.3" cx="-10.4" cy="-8.3" rx="3" ry="3.6"/><ellipse class="k" stroke-width="1.3" cx="-3.8" cy="-15.6" rx="3" ry="3.6"/><ellipse class="k" stroke-width="1.3" cx="4.8" cy="-15.6" rx="3" ry="3.6"/><ellipse class="k" stroke-width="1.3" cx="11.4" cy="-8.3" rx="3" ry="3.6"/><ellipse class="k w" stroke-width="1.8" cx="0.5" cy="0" rx="9.5" ry="12.5"/><ellipse class="k" stroke-width="1.8" cx="0.5" cy="0" rx="7" ry="9.5"/><path class="k" stroke-width="1.6" d="M-1 -9 Q-6 0 -2 8"/></g>
<g transform="translate(1279 1060) rotate(19) scale(1)"><path class="k w" stroke-width="2.2" d="M-12 -25.5 H0 V25.5 H-12 A19 25.5 0 0 1 -12 -25.5Z"/><ellipse class="k w" stroke-width="2.2" cx="0" cy="0" rx="20" ry="25.5"/><ellipse class="k" stroke-width="1.8" cx="0.5" cy="0" rx="16.5" ry="21.5"/><ellipse class="k" stroke-width="1.3" cx="12.9" cy="2.9" rx="3" ry="3.6"/><ellipse class="k" stroke-width="1.3" cx="8.6" cy="12.7" rx="3" ry="3.6"/><ellipse class="k" stroke-width="1.3" cx="0.5" cy="16.6" rx="3" ry="3.6"/><ellipse class="k" stroke-width="1.3" cx="-7.6" cy="12.7" rx="3" ry="3.6"/><ellipse class="k" stroke-width="1.3" cx="-11.9" cy="2.9" rx="3" ry="3.6"/><ellipse class="k" stroke-width="1.3" cx="-10.4" cy="-8.3" rx="3" ry="3.6"/><ellipse class="k" stroke-width="1.3" cx="-3.8" cy="-15.6" rx="3" ry="3.6"/><ellipse class="k" stroke-width="1.3" cx="4.8" cy="-15.6" rx="3" ry="3.6"/><ellipse class="k" stroke-width="1.3" cx="11.4" cy="-8.3" rx="3" ry="3.6"/><ellipse class="k w" stroke-width="1.8" cx="0.5" cy="0" rx="9.5" ry="12.5"/><ellipse class="k" stroke-width="1.8" cx="0.5" cy="0" rx="7" ry="9.5"/><path class="k" stroke-width="1.6" d="M-1 -9 Q-6 0 -2 8"/></g>
<g transform="translate(1151 1002.5) rotate(21.2)"><path class="k w" stroke-width="2" d="M0 -10.5 H80 V10.5 H0 A9 10.5 0 0 1 0 -10.5Z"/><ellipse class="k w" stroke-width="2" cx="80" cy="0" rx="8.5" ry="10.5"/><ellipse class="k" stroke-width="1.4" cx="80.5" cy="0" rx="6.5" ry="8.5"/></g>
<g transform="translate(1326 1085) rotate(19)"><ellipse class="k w" stroke-width="2.2" cx="-6" cy="0" rx="19" ry="25"/><path class="k w" stroke-width="0" d="M-6 -25H2V25H-6Z" stroke="none"/><ellipse class="k w" stroke-width="2.2" cx="2" cy="0" rx="19" ry="25"/><ellipse class="k w" stroke-width="1.8" cx="6" cy="0" rx="7" ry="10"/><path class="k" stroke-width="1.4" d="M9 -9Q13 0 9 9"/><path class="k w" stroke-width="2" d="M18 -11 H40 V11 H18 A6 11 0 0 1 18 -11Z"/></g>
<g transform="translate(1368.5 1102.5) rotate(19)"><path class="k w" stroke-width="2.2" d="M-9 -22 H0 V22 H-9 A17 22 0 0 1 -9 -22Z"/><ellipse class="k w" stroke-width="2.2" cx="0" cy="0" rx="18" ry="22"/><ellipse class="k" stroke-width="1.4" cx="2" cy="1" rx="7.5" ry="9"/></g>
<g transform="translate(1757 1184) rotate(21.2)"><path class="k w" stroke-width="1.4" d="M3 -3.5 H18.3 V3.5 H3 Q-1 0 3 -3.5 Z"/><path class="k" stroke-width="1.5" d="M3 -3.5L4.5 3.5M6.6 -3.5L8.1 3.5M10.2 -3.5L11.7 3.5M13.8 -3.5L15.3 3.5"/><path class="k w" stroke-width="1.4" d="M18.3 -5.2 H26.3 V5.2 H18.3 Z"/><ellipse class="k w" stroke-width="1.4" cx="18.3" cy="0" rx="2.3" ry="5.2"/><ellipse class="k w" stroke-width="1.4" cx="26.3" cy="0" rx="3.1" ry="5.2"/><ellipse class="k" stroke-width="1.4" cx="26.8" cy="0" rx="1.4" ry="2.5"/></g>

<!-- 50_brake.svg -->
<path class="k w" stroke-width="2.2" d="M1482.5 665.6L1499 668L1516.2 672L1525 727.3L1506.6 736.1L1495.4 734.5L1492.2 779.4L1498.6 783L1490.6 790.6L1476.1 800.2L1476.1 816.3L1489 830.7L1511.4 841.9L1503.4 880.3L1490.6 900L1480 905 L1480 905C1476.7 902.5 1467.9 897 1460.1 890C1452.2 883 1440.7 870.7 1432.9 862.7C1425.2 854.7 1418.4 849.1 1413.6 841.9C1408.8 834.7 1405.3 825.4 1404 819.5C1402.7 813.6 1403.9 810.9 1405.6 806.6C1407.3 802.3 1412.9 798.3 1414.4 793.8C1415.9 789.3 1416.1 784.7 1414.4 779.4C1412.7 774.1 1405.2 767.9 1404 761.8C1402.8 755.6 1405 748.9 1407.2 742.5C1409.4 736.1 1410.2 730.2 1416.9 723.3C1423.6 716.4 1438 708.9 1447.3 700.9C1456.6 692.9 1467.1 681.2 1473 675.3C1478.9 669.4 1480.9 667.2 1482.5 665.6 Z"/>
<path class="k" stroke-width="1.6" d="M1482.5 676L1506 681L1516.2 672"/>
<path class="k" stroke-width="1.6" d="M1506 681L1512 733"/>
<path class="k" stroke-width="1.6" d="M1482.5 676L1440 740L1446 748L1464 742L1468 735"/>
<path class="k" stroke-width="1.4" d="M1490 690L1462 738"/>
<path class="k" stroke-width="1.4" d="M1438 742L1430 790L1426 850"/>
<path class="k" stroke-width="1.2" d="M1422 770L1420 820"/>
<path class="k" stroke-width="1.6" d="M1438 855L1452 866L1476 856L1488 832"/>
<path class="k" stroke-width="1.6" d="M1452 866L1470 892"/>
<path class="k" stroke-width="1.4" d="M1462 862L1480 886L1492 856"/>
<ellipse class="k w" stroke-width="2" cx="1466" cy="767" rx="25" ry="32" transform="rotate(20 1466 767)"/>
<ellipse class="k" stroke-width="2" cx="1466" cy="767" rx="21" ry="28" transform="rotate(20 1466 767)"/>
<path class="k" stroke-width="1.4" d="M1451 763 Q1449 779 1462 789"/>
<ellipse class="k w" stroke-width="2" cx="1458" cy="828" rx="22" ry="29" transform="rotate(20 1458 828)"/>
<ellipse class="k" stroke-width="2" cx="1458" cy="828" rx="18" ry="25" transform="rotate(20 1458 828)"/>
<path class="k" stroke-width="1.4" d="M1446 824 Q1444 840 1454 847"/>
<ellipse class="k" stroke-width="1.6" cx="1510" cy="690" rx="5" ry="7" transform="rotate(20 1510 690)"/>
<ellipse class="k" stroke-width="1.6" cx="1512" cy="707" rx="5" ry="8" transform="rotate(20 1512 707)"/>
<ellipse class="k" stroke-width="1.6" cx="1513" cy="724" rx="5" ry="6" transform="rotate(20 1513 724)"/>
<ellipse class="k" stroke-width="1.6" cx="1491" cy="783" rx="6" ry="7" transform="rotate(20 1491 783)"/>
<ellipse class="k" stroke-width="1.6" cx="1437" cy="805" rx="4" ry="5" transform="rotate(20 1437 805)"/>
<ellipse class="k" stroke-width="1.6" cx="1497" cy="855" rx="4" ry="6" transform="rotate(20 1497 855)"/>
<ellipse class="k" stroke-width="1.6" cx="1487" cy="888" rx="4" ry="6" transform="rotate(20 1487 888)"/>
<ellipse class="k" stroke-width="3" cx="1537" cy="717" rx="5" ry="8" transform="rotate(25 1537 717)"/>
<path class="k" stroke-width="1.6" d="M1578.7 721.7 L1594 709.5 Q1596 712 1592 714 L1580 723.5"/>
<path class="k w" stroke-width="2.2" d="M1532.2 766.6L1574.7 752.2L1579.5 754.6L1580.3 793.8L1585.1 794.6L1586.7 801.8L1580.3 809.8L1578.7 864.3L1543.4 877.1L1533 875.5Z"/>
<path style="fill:#d4d4d4" class="k" stroke-width="1.6" d="M1542 768.5 L1577 756.5 L1578.5 864 L1543.5 876.5 Z"/>
<path class="k" stroke-width="1.8" d="M1542 822L1578 810"/>
<path class="k" stroke-width="1.4" d="M1542 826L1578 814"/>
<path class="k" stroke-width="1.4" d="M1536 768L1537.5 874"/>
<path class="k w" stroke-width="2.2" d="M1630 782.6L1676.4 772.2L1678 813L1683.6 817.9L1682.8 833.9L1676.4 838.7L1674.8 880.3L1634.8 898L1630 894.8Z"/>
<path style="fill:#a0a0a0" class="k" stroke-width="1.4" d="M1630 782.6 L1637.5 781 L1641 895 L1634.8 898 L1630 894.8 Z"/>
<path class="k" stroke-width="1.4" d="M1641 786L1674 778.5"/>
<path class="k" stroke-width="1.6" d="M1654 807.2 A5.6 6.4 0 1 0 1654 817.2"/>
<path class="k" stroke-width="1.6" d="M1670 796.8 A5.6 6.4 0 1 0 1670 806.8"/>
<path class="k" stroke-width="1.6" d="M1653.2 865.7 A5.6 6.4 0 1 0 1653.2 875.7"/>
<path class="k" stroke-width="1.6" d="M1667.6 856.1 A5.6 6.4 0 1 0 1667.6 866.1"/>
<ellipse class="k" stroke-width="1.4" cx="1679" cy="826" rx="2" ry="5"/>
<path class="k w" stroke-width="2" d="M1601.1 694.5L1605.9 687.3L1644.4 699.3L1642.8 708.9Z"/>
<path class="k" stroke-width="3" d="M1605.9 687.3L1644.4 699.3"/>
<path class="k w" stroke-width="1.8" d="M1619.5 701L1618 726.5L1622.6 732.9L1620.6 756L1625.6 757.6L1627.6 732.9L1623.2 726.5L1624.8 702.7Z"/>
<path class="k w" stroke-width="2" d="M1609.1 755.4L1633.2 763.4L1634 768.2L1609.1 760.2Z"/>
<g transform="translate(1645 732.5) rotate(17.3)"><path class="k w" stroke-width="1.8" d="M2 -2.8 H46 V2.8 H2 Q-2 0 2 -2.8Z"/><path class="k w" stroke-width="1.8" d="M46 -3.6 H55 Q58 0 55 3.6 H46 Z"/><path class="k" stroke-width="1.2" d="M50 -3.6V3.6M53 -3.6V3.6"/></g>
<path class="k w" stroke-width="2.2" d="M1765.8 717.6C1772.6 719 1791.2 727.6 1795.4 732.4C1799.6 737.2 1792.3 743.1 1790.8 746.2C1789.2 749.3 1785.6 749.2 1786.1 750.8C1786.5 752.3 1792 753.2 1793.5 755.5C1795 757.8 1795.9 761.6 1795.4 764.7C1795 767.8 1792.3 771.5 1790.8 774C1789.2 776.5 1785.6 774.6 1786.1 779.5C1786.5 784.4 1790.6 797 1793.5 803.5C1796.4 810 1801.9 812.8 1803.7 818.3C1805.5 823.8 1805.7 830 1804.6 836.8C1803.5 843.6 1798.6 851 1797.2 859C1795.8 867 1795.7 879.4 1796.3 884.9C1796.9 890.4 1801.1 888.6 1800.9 892.3C1800.8 896 1797.2 901 1795.4 907.1C1793.6 913.2 1792.9 922.4 1789.8 929.2C1786.7 936 1780.3 942.2 1776.9 947.7C1773.5 953.2 1772 959.2 1769.5 962.5C1767 965.8 1767.3 967.8 1762.1 967.2C1756.9 966.6 1742.7 962 1738.1 958.8C1733.5 955.5 1737.5 952.3 1734.4 947.7C1731.3 943.1 1722.2 934.6 1719.6 931.1C1717 927.6 1717.9 927.6 1718.7 926.5C1719.5 925.4 1723.4 937.1 1724.2 924.6C1725 912.1 1723.2 867.5 1723.3 851.6C1723.4 835.7 1726.9 835.6 1725.1 829.4C1723.2 823.2 1714 819.5 1712.2 814.6C1710.4 809.7 1711.8 804.1 1714 799.8C1716.2 795.5 1720.2 791.8 1725.1 788.7C1730 785.6 1739.9 789 1743.6 781.3C1747.3 773.6 1745.4 752 1747.3 742.5C1749.2 733 1751.6 728.1 1754.7 724C1757.8 719.9 1759 716.2 1765.8 717.6Z"/>
<path class="k" stroke-width="1.6" d="M1765.8 717.6L1764 727L1792 741"/>
<ellipse class="k" stroke-width="2" cx="1777" cy="746" rx="8" ry="13" transform="rotate(22 1777 746)"/>
<ellipse class="k" stroke-width="1.6" cx="1776.5" cy="746" rx="4.5" ry="8" transform="rotate(22 1776.5 746)"/>
<ellipse class="k" stroke-width="2" cx="1743" cy="811" rx="9" ry="14" transform="rotate(22 1743 811)"/>
<ellipse class="k" stroke-width="1.6" cx="1742" cy="811" rx="5" ry="9" transform="rotate(22 1742 811)"/>
<ellipse class="k" stroke-width="1.8" cx="1790" cy="877" rx="4" ry="7" transform="rotate(22 1790 877)"/>
<ellipse class="k" stroke-width="1.4" cx="1788" cy="878" rx="7" ry="11" transform="rotate(22 1788 878)"/>
<ellipse class="k" stroke-width="1.6" cx="1771" cy="954" rx="4" ry="9" transform="rotate(22 1771 954)"/>
<path class="k" stroke-width="1.8" d="M1786 752C1787 758.3 1790.2 780 1792 790C1793.8 800 1796.2 808.3 1797 812"/>
<path class="k" stroke-width="1.6" d="M1797 812C1796.2 815.8 1792.7 827.3 1792 835C1791.3 842.7 1792.8 854.2 1793 858"/>
<path class="k" stroke-width="1.4" d="M1770 770C1768.7 775 1765.3 790.8 1762 800C1758.7 809.2 1752 820.8 1750 825"/>
<path class="k" stroke-width="1.4" d="M1773 815C1773.2 824.2 1774.5 850.8 1774 870C1773.5 889.2 1770.7 920 1770 930"/>
<path class="k" stroke-width="1.4" d="M1772 832C1770.3 836.7 1763.5 850.3 1762 860C1760.5 869.7 1761.5 882.5 1763 890C1764.5 897.5 1769.7 902.5 1771 905"/>
<path class="k" stroke-width="1.6" d="M1733 866L1734 915"/>
<path class="k" stroke-width="1.3" d="M1738 870C1739.3 872.5 1745.3 879.2 1746 885C1746.7 890.8 1742.7 901.7 1742 905"/>
<path class="k" stroke-width="1.2" d="M1750 884L1765 888"/>
<path class="k" stroke-width="1.3" d="M1762 895C1762.5 900.8 1764.7 920.8 1765 930C1765.3 939.2 1764.2 946.7 1764 950"/>
<path class="k" stroke-width="1.3" d="M1730 835L1745 845"/>
<path class="k" stroke-width="1.4" d="M1797 894C1795.5 895.8 1789.3 899 1788 905C1786.7 911 1788.8 925.8 1789 930"/>
<path class="k" stroke-width="1.4" d="M1779 862l4 3m-5 4l5 2m-4 5h4m-5 5l5 1m-5 5l4 3m-4 4h5m-6 6l4 2m-4 6l3 1"/>
<g transform="translate(1817.6 773) rotate(11.3)"><path class="k w" stroke-width="2" d="M3 -6.5 H31.6 V6.5 H3 Q-1 0 3 -6.5 Z"/><path class="k" stroke-width="1.5" d="M3 -6.5L4.5 6.5M6.6 -6.5L8.1 6.5M10.2 -6.5L11.7 6.5M13.8 -6.5L15.3 6.5M17.4 -6.5L18.9 6.5M21 -6.5L22.5 6.5M24.6 -6.5L26.1 6.5M28.2 -6.5L29.7 6.5"/><path class="k w" stroke-width="2" d="M31.6 -9.5 H47.1 V9.5 H31.6 Z"/><ellipse class="k w" stroke-width="2" cx="31.6" cy="0" rx="4.2" ry="9.5"/><ellipse class="k w" stroke-width="2" cx="47.1" cy="0" rx="5.7" ry="9.5"/><ellipse class="k" stroke-width="1.4" cx="47.6" cy="0" rx="2.5" ry="4.6"/></g>
<g transform="translate(1822.2 802.6) rotate(11.4)"><path class="k w" stroke-width="2" d="M3 -6.5 H31.6 V6.5 H3 Q-1 0 3 -6.5 Z"/><path class="k" stroke-width="1.5" d="M3 -6.5L4.5 6.5M6.6 -6.5L8.1 6.5M10.2 -6.5L11.7 6.5M13.8 -6.5L15.3 6.5M17.4 -6.5L18.9 6.5M21 -6.5L22.5 6.5M24.6 -6.5L26.1 6.5M28.2 -6.5L29.7 6.5"/><path class="k w" stroke-width="2" d="M31.6 -9.5 H47.1 V9.5 H31.6 Z"/><ellipse class="k w" stroke-width="2" cx="31.6" cy="0" rx="4.2" ry="9.5"/><ellipse class="k w" stroke-width="2" cx="47.1" cy="0" rx="5.7" ry="9.5"/><ellipse class="k" stroke-width="1.4" cx="47.6" cy="0" rx="2.5" ry="4.6"/></g>
<g transform="translate(1807.4 935.7) rotate(12.4)"><path class="k w" stroke-width="2" d="M3 -6.5 H31.8 V6.5 H3 Q-1 0 3 -6.5 Z"/><path class="k" stroke-width="1.5" d="M3 -6.5L4.5 6.5M6.6 -6.5L8.1 6.5M10.2 -6.5L11.7 6.5M13.8 -6.5L15.3 6.5M17.4 -6.5L18.9 6.5M21 -6.5L22.5 6.5M24.6 -6.5L26.1 6.5M28.2 -6.5L29.7 6.5"/><path class="k w" stroke-width="2" d="M31.8 -9.5 H47.3 V9.5 H31.8 Z"/><ellipse class="k w" stroke-width="2" cx="31.8" cy="0" rx="4.2" ry="9.5"/><ellipse class="k w" stroke-width="2" cx="47.3" cy="0" rx="5.7" ry="9.5"/><ellipse class="k" stroke-width="1.4" cx="47.8" cy="0" rx="2.5" ry="4.6"/></g>
<g transform="translate(1795.4 960.7) rotate(12.3)"><path class="k w" stroke-width="2" d="M3 -6.5 H31.8 V6.5 H3 Q-1 0 3 -6.5 Z"/><path class="k" stroke-width="1.5" d="M3 -6.5L4.5 6.5M6.6 -6.5L8.1 6.5M10.2 -6.5L11.7 6.5M13.8 -6.5L15.3 6.5M17.4 -6.5L18.9 6.5M21 -6.5L22.5 6.5M24.6 -6.5L26.1 6.5M28.2 -6.5L29.7 6.5"/><path class="k w" stroke-width="2" d="M31.8 -9.5 H47.3 V9.5 H31.8 Z"/><ellipse class="k w" stroke-width="2" cx="31.8" cy="0" rx="4.2" ry="9.5"/><ellipse class="k w" stroke-width="2" cx="47.3" cy="0" rx="5.7" ry="9.5"/><ellipse class="k" stroke-width="1.4" cx="47.8" cy="0" rx="2.5" ry="4.6"/></g>
<g transform="translate(1935.5 816.4) rotate(15)"><path class="k w" stroke-width="1.8" d="M7.1 0L2.1 9.5L-8.1 9.5L-13.1 0L-8.1 -9.5L2.1 -9.5Z"/><path class="k w" stroke-width="1.8" d="M12.1 0L7.1 9.5L-3.1 9.5L-8.1 0L-3.1 -9.5L7.1 -9.5Z"/><ellipse class="k" stroke-width="1.6" cx="2.5" cy="0" rx="5" ry="6"/><path class="k" stroke-width="1.2" d="M0 -3L5 3M0 2L5 -2M1 0H5"/></g>
<g transform="translate(1897.6 982.8) rotate(15)"><path class="k w" stroke-width="1.8" d="M7.1 0L2.1 9.5L-8.1 9.5L-13.1 0L-8.1 -9.5L2.1 -9.5Z"/><path class="k w" stroke-width="1.8" d="M12.1 0L7.1 9.5L-3.1 9.5L-8.1 0L-3.1 -9.5L7.1 -9.5Z"/><ellipse class="k" stroke-width="1.6" cx="2.5" cy="0" rx="5" ry="6"/><path class="k" stroke-width="1.2" d="M0 -3L5 3M0 2L5 -2M1 0H5"/></g>
<path class="k w" stroke-width="2" d="M2009.4 804.4C2009.6 800.3 2010.6 796.1 2013.1 793.3C2015.6 790.5 2019.3 788 2024.2 787.4C2029.1 786.8 2037.8 787.1 2042.7 789.6C2047.6 792.1 2052.1 797.3 2053.8 802.5C2055.5 807.7 2054.5 815.9 2052.9 821C2051.3 826.1 2047.3 830.5 2044.5 833C2041.7 835.5 2039.4 837.2 2036 836C2032.6 834.8 2028 829 2024 826C2020 823 2014.4 821.6 2012 818C2009.6 814.4 2009.2 808.5 2009.4 804.4Z"/>
<ellipse class="k w" stroke-width="2" cx="2041" cy="812.5" rx="8.5" ry="14.5" transform="rotate(12 2041 812.5)"/>
<path class="k" stroke-width="1.6" d="M2043 800 Q2049 812 2044 825"/>
<path class="k w" stroke-width="2" d="M1970.6 799.7C1965.5 801.8 1962 807.9 1959.5 813.6C1957 819.3 1955.2 827.5 1955.8 834C1956.4 840.5 1961.3 847.5 1963.2 852.4C1965.1 857.3 1967.2 858 1966.9 863.5C1966.6 869 1964.1 875.2 1961.3 885.7C1958.5 896.2 1953.7 914.1 1950.3 926.4C1946.9 938.7 1944.7 951.4 1941 959.7C1937.3 968 1931.5 970.8 1928.1 976.3C1924.7 981.8 1921.6 987.8 1920.7 993C1919.8 998.2 1920.3 1003.7 1922.5 1007.7C1924.7 1011.7 1929.6 1014.8 1933.6 1017C1937.6 1019.2 1942 1021.3 1946.6 1020.7C1951.2 1020.1 1957 1017.9 1961.3 1013.3C1965.6 1008.7 1969.3 998.9 1972.4 993C1975.5 987.1 1977.6 986.2 1979.8 978.2C1982 970.2 1983.2 954.8 1985.4 944.9C1987.6 935 1989.7 927.6 1992.8 919C1995.9 910.4 2003 898.3 2003.9 893.1C2004.8 887.9 1999.7 890.1 1998.3 887.6C1996.9 885.1 1995.5 882.3 1995.5 878.3C1995.5 874.3 1996.6 867.8 1998.3 863.5C2000 859.2 2003.8 855.8 2005.7 852.4C2007.7 849 2009 847.4 2010 843C2011 838.6 2010.7 831.2 2012 826C2013.3 820.8 2018.4 815.6 2018 812C2017.6 808.4 2014.1 806.2 2009.4 804.4C2004.7 802.6 1996.5 801.8 1990 801C1983.5 800.2 1975.7 797.6 1970.6 799.7Z"/>
<path class="k" stroke-width="1.8" d="M1970.6 799.7C1975.5 800.2 1991.4 802 2000 803C2008.6 804 2018.3 805.5 2022 806"/>
<path class="k" stroke-width="1.4" d="M2004 806C2007 806.7 2018.3 808.3 2022 810C2025.7 811.7 2025.3 815 2026 816"/>
<path class="k" stroke-width="1.8" d="M1979.3 849.5A23 18 -82 0 1 1992.6 808.1A23 18 -82 0 1 2000 850.1"/>
<path class="k" stroke-width="1.8" d="M1996 824 A6.5 8 0 1 0 1996 838"/>
<path class="k w" stroke-width="1.8" d="M2004 852C2001.2 853.7 1998.3 861.3 1997 866C1995.7 870.7 1995.3 876.2 1996 880C1996.7 883.8 1998.8 890.3 2001 889C2003.2 887.7 2006.8 877.5 2009 872C2011.2 866.5 2014.8 859.3 2014 856C2013.2 852.7 2006.8 850.3 2004 852Z"/>
<path class="k" stroke-width="1.4" d="M2008 853C2006.8 855.5 2002.3 862.8 2001 868C1999.7 873.2 2000.2 881.3 2000 884"/>
<path class="k" stroke-width="1.6" d="M1940.8 1013.2A22 17 -82 0 1 1945.5 979.8A22 17 -82 0 1 1970.1 989.2"/>
<path class="k" stroke-width="1.8" d="M1958 991 A6.5 8 0 1 0 1958 1005"/>
<path class="k" stroke-width="1.4" d="M1975 850C1975 855 1977.2 866.7 1975 880C1972.8 893.3 1965.8 915.8 1962 930C1958.2 944.2 1953.7 959.2 1952 965"/>
<path class="k" stroke-width="1.3" d="M1962 816C1961.7 819.7 1959.2 831.3 1960 838C1960.8 844.7 1965.8 853 1967 856"/>
<path class="k" stroke-width="1.3" d="M1944 962C1942.7 964.2 1938 970.3 1936 975C1934 979.7 1932.7 987.5 1932 990"/>
<text transform="translate(1975.5 974) rotate(-78) scale(1.301 1)" font-size="15" font-weight="bold" font-style="italic" fill="none" stroke="#231f20" stroke-width="1">GAS GAS</text>
<circle cx="2014" cy="835.8" r="10" fill="#fff" stroke="#8a8a8a" stroke-width="1.5"/><path d="M2012 841l4-9" stroke="#8a8a8a" stroke-width="1.2"/>
<circle cx="1983.2" cy="1005" r="10" fill="#fff" stroke="#8a8a8a" stroke-width="1.5"/><circle cx="1983.2" cy="1005" r="5" fill="none" stroke="#c4c4c4" stroke-width="1"/>
<path class="k" stroke-width="1.6" d="M2034 815 L2125 838"/>
<path class="k" stroke-width="1.6" stroke-dasharray="22 5 4 5" d="M2010 869 L2066 886"/>
<g transform="translate(2064.9 822.9) rotate(13.5)"><path class="k w" stroke-width="2.2" d="M3 -8 H44.7 V8 H3 Q-1 0 3 -8 Z"/><path class="k" stroke-width="1.5" d="M3 -8L4.5 8M6.6 -8L8.1 8M10.2 -8L11.7 8M13.8 -8L15.3 8M17.4 -8L18.9 8M21 -8L22.5 8M24.6 -8L26.1 8M28.2 -8L29.7 8M31.8 -8L33.3 8M35.4 -8L36.9 8M39 -8L40.5 8M42.6 -8L44.1 8"/><path class="k w" stroke-width="2.2" d="M44.7 -12 H62.7 V12 H44.7 Z"/><ellipse class="k w" stroke-width="2.2" cx="44.7" cy="0" rx="5.3" ry="12"/><ellipse class="k w" stroke-width="2.2" cx="62.7" cy="0" rx="7.2" ry="12"/><ellipse class="k" stroke-width="1.4" cx="63.2" cy="0" rx="3.1" ry="5.8"/></g>
<g transform="translate(2029.7 844.1) rotate(13.5)"><path class="k w" stroke-width="2" d="M3 -6 H37.4 V6 H3 Q-1 0 3 -6 Z"/><path class="k" stroke-width="1.5" d="M3 -6L4.5 6M6.6 -6L8.1 6M10.2 -6L11.7 6M13.8 -6L15.3 6M17.4 -6L18.9 6M21 -6L22.5 6M24.6 -6L26.1 6M28.2 -6L29.7 6M31.8 -6L33.3 6M35.4 -6L36.9 6"/><path class="k w" stroke-width="2" d="M37.4 -8.5 H51.4 V8.5 H37.4 Z"/><ellipse class="k w" stroke-width="2" cx="37.4" cy="0" rx="3.7" ry="8.5"/><ellipse class="k w" stroke-width="2" cx="51.4" cy="0" rx="5.1" ry="8.5"/><ellipse class="k" stroke-width="1.4" cx="51.9" cy="0" rx="2.2" ry="4.1"/></g>
<g transform="translate(2064.9 883.9) rotate(14.8)"><path class="k w" stroke-width="2.2" d="M3 -8 H46 V8 H3 Q-1 0 3 -8 Z"/><path class="k" stroke-width="1.5" d="M3 -8L4.5 8M6.6 -8L8.1 8M10.2 -8L11.7 8M13.8 -8L15.3 8M17.4 -8L18.9 8M21 -8L22.5 8M24.6 -8L26.1 8M28.2 -8L29.7 8M31.8 -8L33.3 8M35.4 -8L36.9 8M39 -8L40.5 8M42.6 -8L44.1 8"/><path class="k w" stroke-width="2.2" d="M46 -12 H65 V12 H46 Z"/><ellipse class="k w" stroke-width="2.2" cx="46" cy="0" rx="5.3" ry="12"/><ellipse class="k w" stroke-width="2.2" cx="65" cy="0" rx="7.2" ry="12"/><ellipse class="k" stroke-width="1.4" cx="65.5" cy="0" rx="3.1" ry="5.8"/></g>
<g transform="translate(2000 1011) rotate(12.3)"><path class="k w" stroke-width="2" d="M3 -6 H36.2 V6 H3 Q-1 0 3 -6 Z"/><path class="k" stroke-width="1.5" d="M3 -6L4.5 6M6.6 -6L8.1 6M10.2 -6L11.7 6M13.8 -6L15.3 6M17.4 -6L18.9 6M21 -6L22.5 6M24.6 -6L26.1 6M28.2 -6L29.7 6M31.8 -6L33.3 6"/><path class="k w" stroke-width="2" d="M36.2 -8.5 H50.2 V8.5 H36.2 Z"/><ellipse class="k w" stroke-width="2" cx="36.2" cy="0" rx="3.7" ry="8.5"/><ellipse class="k w" stroke-width="2" cx="50.2" cy="0" rx="5.1" ry="8.5"/><ellipse class="k" stroke-width="1.4" cx="50.7" cy="0" rx="2.2" ry="4.1"/></g>
<path class="k" stroke-width="2" d="M1703.7 422.2C1711.8 428.8 1739 446.8 1752.5 461.5C1766 476.2 1776 494.5 1785 510.3C1794 526.1 1801.5 542.8 1806.7 556.4C1811.9 570 1814.5 586.1 1816 592"/>
<path class="k" stroke-width="2" d="M1692.8 433C1700.5 439.6 1725.8 457.6 1738.9 472.3C1752 487 1762.9 506.2 1771.5 521.1C1780.1 536 1786 549.3 1790.5 561.8C1795 574.3 1797.2 590.3 1798.5 596"/>
<path class="k w" stroke-width="2" d="M1797.2 588.9L1800 596L1816 593L1818.9 586.2L1821.6 624.2L1801.3 628.3Z"/>
<path class="k" stroke-width="1.6" d="M1797.2 588.9L1798 580"/>
<path class="k w" stroke-width="2" d="M1805 628L1806 652L1817 651L1816.5 626Z"/>
<ellipse class="k w" stroke-width="2.2" cx="1811" cy="664" rx="17.5" ry="15.5" transform="rotate(-15 1811 664)"/>
<ellipse class="k w" stroke-width="2" cx="1808.5" cy="669.5" rx="10" ry="7" transform="rotate(-15 1808.5 669.5)"/>
<path class="k" stroke-width="1.4" d="M1795 668 Q1800 680 1812 680"/>
<ellipse class="k w" stroke-width="2" cx="1832.6" cy="630.5" rx="14" ry="10.5" transform="rotate(25 1832.6 630.5)"/>
<ellipse class="k w" stroke-width="2" cx="1834.1" cy="628.0" rx="14" ry="10.5" transform="rotate(25 1834.1 628.0)"/>
<ellipse class="k" stroke-width="1.8" cx="1834.1" cy="628.0" rx="8" ry="5.5" transform="rotate(25 1834.1 628.0)"/>
<ellipse class="k w" stroke-width="2" cx="1795" cy="696.6" rx="14" ry="10.5" transform="rotate(25 1795 696.6)"/>
<ellipse class="k w" stroke-width="2" cx="1796.5" cy="694.1" rx="14" ry="10.5" transform="rotate(25 1796.5 694.1)"/>
<ellipse class="k" stroke-width="1.8" cx="1796.5" cy="694.1" rx="8" ry="5.5" transform="rotate(25 1796.5 694.1)"/>
<g transform="translate(1851 600) rotate(-66)"><path class="k w" stroke-width="2" d="M2 -8 H30 V8 H2 Q-2 0 2 -8Z"/><path class="k" stroke-width="1.6" d="M2.5 -8L3.7 8M5.1 -8L6.3 8M7.7 -8L8.9 8M10.3 -8L11.5 8M12.9 -8L14.1 8M15.5 -8L16.7 8M18.1 -8L19.3 8M20.7 -8L21.9 8M23.3 -8L24.5 8M25.9 -8L27.1 8M28.5 -8L29.7 8"/><path class="k w" stroke-width="2" d="M30 -11.5 H40 Q45 0 40 11.5 H30 Q27 0 30 -11.5Z"/><path class="k" stroke-width="1.4" d="M33 -11V11M38 -11.5 Q41 0 38 11.5"/></g>
<path class="k" stroke-width="1.3" d="M2003 585C2012.5 597.5 2043 632.5 2060 660C2077 687.5 2093.3 720 2105 750C2116.7 780 2124.5 815 2130 840C2135.5 865 2137.3 885 2138 900C2138.7 915 2137 921.7 2134 930C2131 938.3 2127.3 946.2 2120 950C2112.7 953.8 2098.3 953.3 2090 953C2081.7 952.7 2073.3 948.8 2070 948"/>
<path class="k" stroke-width="1.3" d="M2008 582C2017.3 594.3 2047.2 628.7 2064 656C2080.8 683.3 2097.3 716 2109 746C2120.7 776 2128.5 810.3 2134 836C2139.5 861.7 2141.3 883.8 2142 900C2142.7 916.2 2141.2 924 2138 933C2134.8 942 2131 949.8 2123 954C2115 958.2 2098.8 958.2 2090 958C2081.2 957.8 2073.3 953.8 2070 953"/>
<g transform="translate(2053 945) rotate(12)"><path class="k w" stroke-width="1.2" d="M0 -2.5H18V2.5H0Z"/><path class="k" stroke-width="1.2" d="M2 -2.5l1 5m2-5l1 5m2-5l1 5m2-5l1 5m2-5l1 5m2-5l1 5"/></g>
<path class="k" stroke-width="1.5" stroke-linecap="butt" stroke-dasharray="26 4 4 4" d="M1327.7 592.6L1762.7 592.6L1762.7 515.5L1968.8 515.5L1968.8 740.6L2151.1 788.7L2151.1 1067.4L1769.8 1067.4L1675.5 933.3L1579.1 908.2L1533 931.2L1327.7 931.2Z"/>

<!-- 60_labels.svg -->
<g font-weight="bold" font-size="23" fill="#231f20" text-anchor="middle">
<text transform="translate(891 420.7) scale(0.672 1)">1</text>
<text transform="translate(295.8 606.2) scale(0.672 1)">2</text>
<text transform="translate(435 648.2) scale(0.704 1)">35</text>
<text transform="translate(492 673.2) scale(0.672 1)">5</text>
<text transform="translate(432.5 855.7) scale(0.704 1)">26</text>
<text transform="translate(432.5 932) scale(0.704 1)">25</text>
<text transform="translate(433 1010.2) scale(0.704 1)">24</text>
<text transform="translate(433 1085.2) scale(0.704 1)">23</text>
<text transform="translate(1225 708.2) scale(0.704 1)">19</text>
<text transform="translate(1224 804.2) scale(0.704 1)">20</text>
<text transform="translate(1226 904.7) scale(0.704 1)">18</text>
<text transform="translate(1178 988.2) scale(0.704 1)">17</text>
<text transform="translate(1270.6 1023.2) scale(0.672 1)">5</text>
<text transform="translate(1332.5 1051.2) scale(0.672 1)">4</text>
<text transform="translate(1376.9 1072) scale(0.672 1)">3</text>
<text transform="translate(1737.7 1099.5) scale(0.672 1)">6</text>
<text transform="translate(1530.3 1196.1) scale(0.704 1)">15</text>
<text transform="translate(1798.6 1197.7) scale(0.672 1)">8</text>
<text transform="translate(1311.8 610.5) scale(0.704 1)">39</text>
<text transform="translate(1380.9 764.7) scale(0.740 1)">11</text>
<text transform="translate(1732.5 739.6) scale(0.740 1)">11</text>
<text transform="translate(1634.8 682.6) scale(0.672 1)">9</text>
<text transform="translate(1658 850.9) scale(0.672 1)">7</text>
<text transform="translate(1722.7 490) scale(0.704 1)">12</text>
<text transform="translate(1890.8 587.6) scale(0.704 1)">13</text>
<text transform="translate(1867.4 694.2) scale(0.704 1)">14</text>
<text transform="translate(2109.2 715.2) scale(0.704 1)">37</text>
<text transform="translate(1932.7 792.2) scale(0.704 1)">22</text>
<text transform="translate(1991.9 791.3) scale(0.704 1)">10</text>
<text transform="translate(2171.2 871.7) scale(0.704 1)">21</text>
<text transform="translate(2023.3 921.6) scale(0.704 1)">27</text>
<text transform="translate(1896.6 961.4) scale(0.704 1)">22</text>
<text transform="translate(2004.8 962.3) scale(0.704 1)">27</text>
<text transform="translate(2065.8 1032.6) scale(0.704 1)">21</text>
</g>
<g stroke="#231f20" stroke-width="1.5" fill="none">
<path d="M893 424L894 433"/>
<path d="M446 846L562.5 846"/>
<path d="M446.8 925.5L484.3 959.2"/>
<path d="M446.8 1004L482.4 1037.8"/>
<path d="M446.8 1077L729.6 1052.8"/>
<path d="M1057.5 698.5L1210 698.5"/>
<path d="M1062.5 806L1209 796"/>
<path d="M925 896.5L1210 896.5"/>
<path d="M1851.5 688.2L1836.8 648.4"/>
<path d="M1851.5 688.2L1811.7 697.4"/>
<path d="M2155.5 863.5L2080.6 853.9"/>
<path d="M2022.4 893.1L2015.9 846.9"/>
<path d="M1998.3 974.5L1988.2 998.5"/>
</g>

<!-- 90_watermark.svg -->
<g style="mix-blend-mode:multiply" fill="#d8d8d8" stroke="#d8d8d8" stroke-linejoin="round" font-weight="bold">
<g transform="translate(726.6 1417.3) rotate(-45.8) skewX(2.7)">
<text transform="scale(0.76 1)" x="5.3 156.9 243.2 410.0 556.7 639.4 780.0 941.4 1100.0 1251.3 1382.8 1439.9 1655.0 1803.2" y="-9.0" font-size="216.0" stroke-width="18.0" style="font-family:'Liberation Serif',serif">BIKE-PARTS WEB</text>
<text x="1473.2" y="-2.6" font-size="80.0" stroke-width="5.0" style="font-family:'Liberation Serif',serif">©</text>
</g>
<g transform="translate(269.8 565.3) rotate(-45.8) skewX(2.7)">
<text transform="scale(0.76 1)" x="1.6 38.0 59.0 99.2 134.3 154.4 188.4 227.3 265.5 301.9 333.4 347.6 399.2 434.9" y="-2.1" font-size="51.0" stroke-width="4.2" style="font-family:'Liberation Serif',serif">BIKE-PARTS WEB</text>
<text x="355.9" y="-0.8" font-size="18.0" stroke-width="1.2" style="font-family:'Liberation Serif',serif">©</text>
</g>
<g transform="translate(1758.8 1423.7) rotate(-45.8) skewX(2.7)">
<text transform="scale(0.76 1)" x="1.6 38.0 59.0 99.2 134.3 154.4 188.4 227.3 265.5 301.9 333.4 347.6 399.2 434.9" y="-2.1" font-size="51.0" stroke-width="4.2" style="font-family:'Liberation Serif',serif">BIKE-PARTS WEB</text>
<text x="355.9" y="-0.8" font-size="18.0" stroke-width="1.2" style="font-family:'Liberation Serif',serif">©</text>
</g>
</g>

</svg>
</body></html>
